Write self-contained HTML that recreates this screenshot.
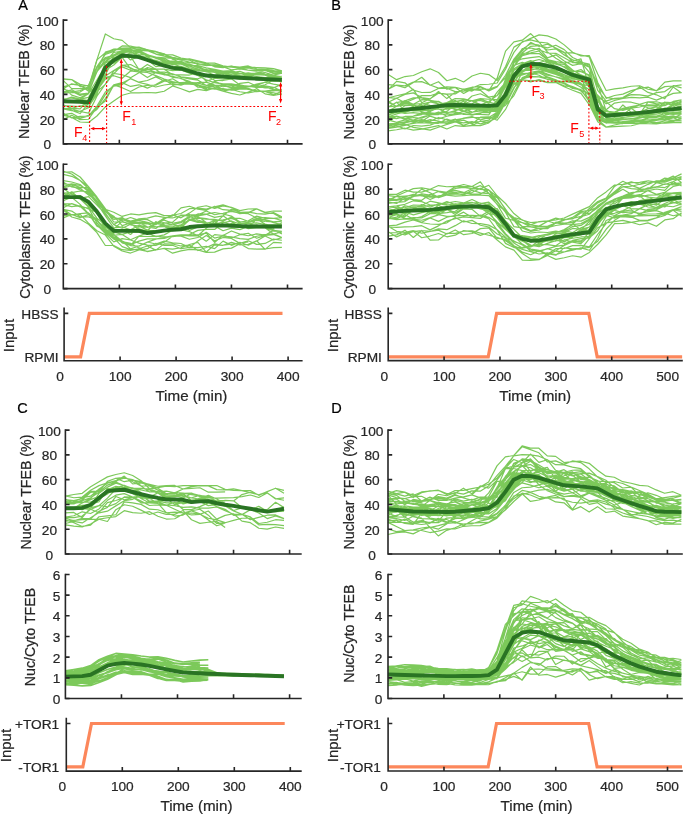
<!DOCTYPE html>
<html><head><meta charset="utf-8"><style>
html,body{margin:0;padding:0;background:#fff;width:685px;height:816px;overflow:hidden}
svg{display:block;will-change:transform}
text{font-family:"Liberation Sans", sans-serif}
</style></head><body>
<svg width="685" height="816" viewBox="0 0 685 816"><path d="M63.30,115.23 L71.71,117.48 L80.11,122.00 L88.52,122.44 L96.93,115.99 L105.34,106.90 L113.75,100.99 L122.15,95.24 L130.56,92.97 L138.97,92.95 L147.38,92.51 L155.78,92.89 L164.19,91.27 L172.60,85.93 L181.00,88.70 L189.41,91.93 L197.82,89.38 L206.23,90.65 L214.63,87.98 L223.04,91.14 L231.45,93.36 L239.86,95.03 L248.26,92.17 L256.67,88.79 L265.08,93.79 L273.49,95.38 L281.89,93.93 M63.30,100.30 L71.71,101.57 L80.11,101.27 L88.52,100.37 L96.93,84.70 L105.34,66.70 L113.75,62.90 L122.15,57.40 L130.56,68.89 L138.97,70.35 L147.38,64.48 L155.78,69.26 L164.19,69.13 L172.60,70.65 L181.00,69.87 L189.41,73.07 L197.82,75.45 L206.23,79.88 L214.63,82.57 L223.04,84.07 L231.45,84.64 L239.86,86.51 L248.26,86.58 L256.67,86.22 L265.08,85.93 L273.49,87.30 L281.89,90.95 M63.30,102.13 L71.71,101.10 L80.11,102.48 L88.52,106.78 L96.93,94.45 L105.34,70.30 L113.75,65.06 L122.15,57.35 L130.56,56.46 L138.97,69.54 L147.38,71.09 L155.78,72.88 L164.19,74.56 L172.60,76.28 L181.00,78.62 L189.41,81.36 L197.82,87.25 L206.23,87.66 L214.63,89.18 L223.04,88.63 L231.45,90.12 L239.86,89.21 L248.26,89.11 L256.67,90.50 L265.08,91.50 L273.49,92.75 L281.89,94.63 M63.30,99.19 L71.71,98.03 L80.11,99.08 L88.52,97.33 L96.93,83.04 L105.34,62.97 L113.75,58.86 L122.15,55.14 L130.56,55.44 L138.97,56.86 L147.38,58.84 L155.78,62.23 L164.19,65.90 L172.60,67.85 L181.00,66.22 L189.41,69.11 L197.82,73.30 L206.23,74.16 L214.63,76.75 L223.04,73.18 L231.45,76.88 L239.86,75.87 L248.26,75.84 L256.67,78.54 L265.08,77.66 L273.49,76.91 L281.89,77.54 M63.30,108.94 L71.71,110.57 L80.11,111.28 L88.52,107.80 L96.93,91.61 L105.34,84.34 L113.75,73.33 L122.15,74.77 L130.56,77.68 L138.97,72.77 L147.38,67.56 L155.78,69.53 L164.19,74.92 L172.60,73.97 L181.00,77.18 L189.41,78.81 L197.82,80.07 L206.23,85.45 L214.63,82.39 L223.04,83.78 L231.45,83.78 L239.86,85.33 L248.26,86.04 L256.67,85.33 L265.08,82.07 L273.49,79.61 L281.89,81.64 M63.30,113.18 L71.71,117.88 L80.11,116.40 L88.52,116.09 L96.93,108.27 L105.34,94.65 L113.75,84.81 L122.15,87.68 L130.56,91.57 L138.97,86.97 L147.38,85.39 L155.78,85.20 L164.19,81.24 L172.60,78.78 L181.00,83.86 L189.41,84.27 L197.82,85.02 L206.23,86.84 L214.63,86.74 L223.04,89.73 L231.45,88.93 L239.86,86.62 L248.26,88.36 L256.67,91.75 L265.08,91.01 L273.49,89.87 L281.89,91.30 M63.30,80.59 L71.71,88.61 L80.11,88.61 L88.52,88.17 L96.93,68.05 L105.34,53.27 L113.75,49.88 L122.15,49.35 L130.56,49.44 L138.97,51.63 L147.38,55.50 L155.78,57.04 L164.19,57.73 L172.60,58.44 L181.00,60.17 L189.41,62.19 L197.82,63.46 L206.23,65.68 L214.63,64.73 L223.04,66.32 L231.45,67.15 L239.86,67.61 L248.26,70.27 L256.67,71.16 L265.08,69.31 L273.49,70.56 L281.89,72.04 M63.30,78.85 L71.71,79.49 L80.11,84.30 L88.52,85.98 L96.93,71.56 L105.34,52.18 L113.75,49.46 L122.15,48.10 L130.56,47.89 L138.97,49.41 L147.38,50.76 L155.78,53.92 L164.19,54.55 L172.60,54.83 L181.00,58.09 L189.41,59.39 L197.82,61.85 L206.23,63.19 L214.63,66.82 L223.04,67.63 L231.45,66.27 L239.86,67.04 L248.26,65.96 L256.67,68.79 L265.08,69.31 L273.49,68.61 L281.89,70.84 M63.30,101.03 L71.71,101.03 L80.11,99.22 L88.52,100.64 L96.93,88.74 L105.34,69.77 L113.75,56.33 L122.15,52.08 L130.56,59.98 L138.97,56.34 L147.38,59.20 L155.78,60.34 L164.19,63.24 L172.60,62.87 L181.00,64.13 L189.41,66.20 L197.82,69.18 L206.23,71.89 L214.63,72.07 L223.04,71.13 L231.45,72.18 L239.86,74.03 L248.26,72.90 L256.67,74.16 L265.08,75.17 L273.49,76.60 L281.89,77.08 M63.30,88.84 L71.71,83.82 L80.11,85.42 L88.52,89.42 L96.93,59.90 L105.34,52.75 L113.75,49.16 L122.15,49.87 L130.56,49.94 L138.97,50.39 L147.38,50.88 L155.78,51.89 L164.19,53.87 L172.60,59.12 L181.00,62.99 L189.41,62.34 L197.82,63.98 L206.23,64.22 L214.63,66.11 L223.04,66.81 L231.45,69.89 L239.86,68.89 L248.26,70.23 L256.67,70.19 L265.08,70.58 L273.49,71.89 L281.89,72.36 M63.30,108.54 L71.71,108.80 L80.11,111.52 L88.52,113.12 L96.93,96.23 L105.34,84.13 L113.75,71.02 L122.15,66.86 L130.56,70.31 L138.97,71.72 L147.38,69.50 L155.78,69.22 L164.19,69.15 L172.60,74.69 L181.00,74.81 L189.41,75.03 L197.82,72.82 L206.23,81.25 L214.63,78.24 L223.04,79.13 L231.45,77.72 L239.86,79.05 L248.26,78.09 L256.67,76.54 L265.08,77.63 L273.49,78.05 L281.89,78.43 M63.30,108.09 L71.71,110.39 L80.11,113.56 L88.52,103.23 L96.93,90.15 L105.34,77.44 L113.75,75.70 L122.15,78.31 L130.56,71.01 L138.97,71.93 L147.38,72.47 L155.78,75.64 L164.19,79.04 L172.60,81.66 L181.00,83.58 L189.41,82.85 L197.82,85.60 L206.23,89.65 L214.63,88.62 L223.04,91.19 L231.45,89.52 L239.86,91.78 L248.26,92.98 L256.67,91.27 L265.08,91.35 L273.49,94.45 L281.89,91.47 M63.30,119.61 L71.71,115.21 L80.11,119.60 L88.52,119.27 L96.93,107.45 L105.34,101.05 L113.75,84.89 L122.15,82.60 L130.56,86.44 L138.97,84.80 L147.38,88.09 L155.78,84.47 L164.19,79.68 L172.60,84.86 L181.00,84.30 L189.41,83.69 L197.82,82.54 L206.23,82.08 L214.63,85.16 L223.04,86.78 L231.45,85.18 L239.86,86.18 L248.26,86.48 L256.67,84.12 L265.08,82.27 L273.49,84.16 L281.89,85.57 M63.30,99.92 L71.71,97.02 L80.11,99.10 L88.52,93.74 L96.93,80.02 L105.34,65.79 L113.75,57.92 L122.15,56.08 L130.56,53.05 L138.97,52.39 L147.38,56.21 L155.78,57.78 L164.19,59.74 L172.60,64.94 L181.00,63.58 L189.41,64.09 L197.82,67.05 L206.23,69.83 L214.63,69.66 L223.04,73.16 L231.45,72.49 L239.86,71.39 L248.26,74.38 L256.67,72.92 L265.08,74.49 L273.49,77.22 L281.89,76.25 M63.30,104.70 L71.71,108.48 L80.11,105.77 L88.52,107.24 L96.93,90.65 L105.34,79.17 L113.75,73.85 L122.15,65.15 L130.56,67.86 L138.97,71.98 L147.38,77.58 L155.78,72.49 L164.19,73.59 L172.60,77.32 L181.00,78.24 L189.41,83.00 L197.82,85.75 L206.23,87.08 L214.63,85.45 L223.04,85.44 L231.45,87.81 L239.86,86.34 L248.26,86.18 L256.67,87.58 L265.08,86.93 L273.49,89.40 L281.89,90.28 M63.30,79.41 L71.71,79.66 L80.11,86.55 L88.52,85.33 L96.93,66.51 L105.34,54.51 L113.75,51.43 L122.15,45.95 L130.56,46.10 L138.97,47.98 L147.38,49.74 L155.78,54.09 L164.19,56.18 L172.60,57.70 L181.00,59.60 L189.41,58.90 L197.82,60.88 L206.23,62.95 L214.63,63.18 L223.04,65.78 L231.45,67.10 L239.86,68.02 L248.26,67.08 L256.67,67.50 L265.08,67.92 L273.49,68.71 L281.89,71.32 M63.30,113.91 L71.71,117.56 L80.11,118.30 L88.52,115.87 L96.93,106.03 L105.34,91.99 L113.75,86.09 L122.15,84.60 L130.56,78.57 L138.97,82.21 L147.38,80.51 L155.78,76.84 L164.19,80.99 L172.60,82.58 L181.00,82.50 L189.41,82.09 L197.82,83.28 L206.23,85.36 L214.63,85.20 L223.04,89.34 L231.45,89.51 L239.86,87.83 L248.26,89.39 L256.67,90.78 L265.08,91.13 L273.49,90.87 L281.89,89.61 M63.30,92.36 L71.71,89.77 L80.11,94.17 L88.52,93.01 L96.93,71.70 L105.34,62.10 L113.75,55.77 L122.15,52.60 L130.56,51.95 L138.97,54.54 L147.38,54.89 L155.78,57.11 L164.19,62.60 L172.60,61.96 L181.00,61.38 L189.41,65.57 L197.82,65.93 L206.23,70.88 L214.63,69.69 L223.04,72.29 L231.45,70.65 L239.86,73.45 L248.26,75.79 L256.67,73.11 L265.08,70.41 L273.49,73.20 L281.89,72.95 M63.30,92.85 L71.71,92.69 L80.11,92.10 L88.52,86.38 L96.93,67.19 L105.34,57.50 L113.75,55.21 L122.15,51.65 L130.56,51.82 L138.97,56.37 L147.38,57.10 L155.78,60.94 L164.19,64.43 L172.60,63.85 L181.00,66.75 L189.41,69.36 L197.82,70.15 L206.23,71.14 L214.63,72.45 L223.04,76.52 L231.45,79.02 L239.86,76.27 L248.26,78.49 L256.67,78.28 L265.08,80.36 L273.49,80.04 L281.89,82.01 M63.30,108.54 L71.71,108.24 L80.11,108.81 L88.52,99.51 L96.93,90.85 L105.34,76.03 L113.75,70.48 L122.15,65.26 L130.56,64.52 L138.97,68.96 L147.38,69.12 L155.78,72.21 L164.19,72.07 L172.60,73.85 L181.00,76.80 L189.41,77.88 L197.82,78.80 L206.23,75.87 L214.63,80.23 L223.04,80.53 L231.45,78.81 L239.86,84.95 L248.26,86.68 L256.67,86.48 L265.08,84.73 L273.49,79.91 L281.89,81.87 M63.30,87.78 L71.71,95.17 L80.11,97.72 L88.52,93.21 L96.93,71.45 L105.34,61.76 L113.75,52.47 L122.15,51.02 L130.56,50.14 L138.97,50.65 L147.38,54.65 L155.78,58.09 L164.19,58.49 L172.60,62.32 L181.00,61.67 L189.41,65.62 L197.82,65.69 L206.23,67.83 L214.63,69.41 L223.04,71.04 L231.45,70.54 L239.86,73.62 L248.26,73.04 L256.67,73.39 L265.08,72.66 L273.49,75.05 L281.89,73.06 M63.30,86.86 L71.71,84.26 L80.11,85.28 L88.52,91.36 L96.93,71.90 L105.34,59.11 L113.75,54.76 L122.15,50.91 L130.56,50.38 L138.97,52.52 L147.38,55.53 L155.78,58.15 L164.19,61.37 L172.60,62.77 L181.00,63.87 L189.41,67.79 L197.82,70.25 L206.23,69.24 L214.63,71.96 L223.04,74.36 L231.45,72.81 L239.86,75.61 L248.26,78.68 L256.67,77.79 L265.08,80.29 L273.49,81.14 L281.89,80.55 M63.30,105.56 L71.71,106.03 L80.11,106.51 L88.52,103.00 L96.93,90.23 L105.34,74.65 L113.75,59.03 L122.15,57.66 L130.56,55.01 L138.97,55.56 L147.38,59.50 L155.78,66.64 L164.19,65.41 L172.60,66.57 L181.00,66.63 L189.41,69.65 L197.82,70.56 L206.23,71.64 L214.63,75.28 L223.04,73.34 L231.45,74.67 L239.86,76.37 L248.26,76.89 L256.67,74.56 L265.08,75.13 L273.49,78.69 L281.89,78.04 M63.30,89.22 L71.71,91.23 L80.11,95.38 L88.52,93.03 L96.93,85.73 L105.34,67.74 L113.75,57.94 L122.15,53.60 L130.56,50.96 L138.97,52.13 L147.38,55.09 L155.78,58.31 L164.19,60.61 L172.60,61.18 L181.00,63.00 L189.41,64.77 L197.82,67.68 L206.23,70.07 L214.63,70.68 L223.04,74.08 L231.45,70.99 L239.86,73.64 L248.26,74.72 L256.67,73.13 L265.08,74.40 L273.49,75.45 L281.89,76.90 M63.30,114.59 L71.71,113.33 L80.11,117.98 L88.52,115.25 L96.93,109.42 L105.34,98.66 L113.75,85.78 L122.15,82.93 L130.56,78.70 L138.97,82.48 L147.38,84.39 L155.78,86.96 L164.19,85.00 L172.60,83.89 L181.00,85.13 L189.41,82.51 L197.82,84.64 L206.23,88.67 L214.63,81.13 L223.04,84.93 L231.45,87.08 L239.86,83.33 L248.26,82.31 L256.67,86.10 L265.08,88.01 L273.49,87.88 L281.89,84.19" fill="none" stroke="#7cc95a" stroke-width="1.2" stroke-linejoin="round"/>
<path d="M63.30,91.78 L71.71,91.97 L80.11,90.59 L88.52,87.17 L96.93,59.85 L105.34,33.94 L113.75,38.73 L122.15,40.42 L130.56,47.65 L138.97,47.19 L147.38,49.93 L155.78,51.45 L164.19,54.34 L172.60,57.45 L181.00,59.15 L189.41,60.04 L197.82,64.53 L206.23,64.90 L214.63,65.07 L223.04,67.12 L231.45,66.18 L239.86,68.58 L248.26,67.87 L256.67,69.46 L265.08,69.79 L273.49,73.54 L281.89,73.37" fill="none" stroke="#7cc95a" stroke-width="1.2" stroke-linejoin="round"/>
<path d="M63.30,210.07 L71.71,217.04 L80.11,219.34 L88.52,224.21 L96.93,232.64 L105.34,245.49 L113.75,245.52 L122.15,249.68 L130.56,250.34 L138.97,248.76 L147.38,246.00 L155.78,250.13 L164.19,243.89 L172.60,244.00 L181.00,245.96 L189.41,245.08 L197.82,250.53 L206.23,247.48 L214.63,243.86 L223.04,245.22 L231.45,244.27 L239.86,243.28 L248.26,242.01 M63.30,196.61 L71.71,193.75 L80.11,198.41 L88.52,196.61 L96.93,205.05 L105.34,213.77 L113.75,224.58 L122.15,228.24 L130.56,224.25 L138.97,222.75 L147.38,226.90 L155.78,228.52 L164.19,223.05 L172.60,222.09 L181.00,215.07 L189.41,216.28 L197.82,215.87 L206.23,214.30 L214.63,217.39 L223.04,215.82 L231.45,209.25 L239.86,212.16 M63.30,203.79 L71.71,203.79 L80.11,206.95 L88.52,208.21 L96.93,222.95 L105.34,232.62 L113.75,238.92 L122.15,241.16 L130.56,244.66 L138.97,241.16 L147.38,238.87 L155.78,238.80 L164.19,238.36 L172.60,235.87 L181.00,236.14 L189.41,239.28 L197.82,237.48 L206.23,232.37 L214.63,238.06 L223.04,236.03 L231.45,236.87 L239.86,238.57 L248.26,239.32 L256.67,236.23 L265.08,234.54 L273.49,233.86 L281.89,237.53 M63.30,174.44 L71.71,176.29 L80.11,180.48 L88.52,188.92 L96.93,198.48 L105.34,209.54 L113.75,222.00 L122.15,221.95 L130.56,223.94 L138.97,228.93 L147.38,231.33 L155.78,221.56 L164.19,226.39 L172.60,230.61 L181.00,227.97 L189.41,219.84 L197.82,222.47 L206.23,222.50 L214.63,224.73 L223.04,225.69 L231.45,223.49 L239.86,224.97 L248.26,228.62 L256.67,227.60 L265.08,227.44 L273.49,231.07 L281.89,231.38 M63.30,172.23 L71.71,171.85 L80.11,176.99 L88.52,186.63 L96.93,198.94 L105.34,209.20 L113.75,212.20 L122.15,216.44 L130.56,213.96 L138.97,214.82 L147.38,213.36 L155.78,212.58 L164.19,215.57 L172.60,215.23 L181.00,213.48 L189.41,208.71 L197.82,208.14 L206.23,209.05 L214.63,206.79 L223.04,204.88 L231.45,207.60 L239.86,212.47 L248.26,212.04 L256.67,213.58 L265.08,214.08 L273.49,212.60 L281.89,216.74 M63.30,183.78 L71.71,184.57 L80.11,187.40 L88.52,187.62 L96.93,198.21 L105.34,211.33 L113.75,216.22 L122.15,225.66 L130.56,223.00 L138.97,222.00 L147.38,223.79 L155.78,226.78 L164.19,226.68 L172.60,226.73 L181.00,224.84 L189.41,230.37 L197.82,226.93 L206.23,224.55 L214.63,226.09 L223.04,230.74 L231.45,228.19 L239.86,229.68 L248.26,226.43 L256.67,224.83 L265.08,227.80 L273.49,234.03 L281.89,231.83 M63.30,187.91 L71.71,185.71 L80.11,189.93 L88.52,193.42 L96.93,203.25 L105.34,215.89 L113.75,227.85 L122.15,226.80 L130.56,229.89 L138.97,225.17 L147.38,227.52 L155.78,223.75 L164.19,224.66 L172.60,229.62 L181.00,224.79 L189.41,219.73 L197.82,216.36 L206.23,222.54 L214.63,224.05 L223.04,222.05 L231.45,224.92 L239.86,227.00 L248.26,227.19 L256.67,219.17 L265.08,224.04 L273.49,226.21 L281.89,225.89 M63.30,180.63 L71.71,182.01 L80.11,184.47 L88.52,191.75 L96.93,200.88 L105.34,213.22 L113.75,224.63 L122.15,219.55 L130.56,222.74 L138.97,220.20 L147.38,223.32 L155.78,223.33 L164.19,222.71 L172.60,224.76 L181.00,222.64 L189.41,217.51 L197.82,213.95 L206.23,214.06 L214.63,212.48 L223.04,213.97 L231.45,216.05 L239.86,222.02 L248.26,220.73 L256.67,216.11 L265.08,218.43 L273.49,218.28 L281.89,220.53 M63.30,193.43 L71.71,197.27 L80.11,195.52 L88.52,201.52 L96.93,213.08 L105.34,229.13 L113.75,234.39 L122.15,240.96 L130.56,245.32 L138.97,236.16 L147.38,236.48 L155.78,236.16 L164.19,236.78 L172.60,236.66 L181.00,235.62 L189.41,234.83 L197.82,234.84 L206.23,233.08 L214.63,242.43 L223.04,235.15 L231.45,237.95 L239.86,234.70 L248.26,233.22 L256.67,238.26 L265.08,235.34 L273.49,234.54 L281.89,237.78 M63.30,209.00 L71.71,214.98 L80.11,213.57 L88.52,212.87 L96.93,219.42 L105.34,231.72 L113.75,239.17 L122.15,241.71 L130.56,243.32 L138.97,247.91 L147.38,251.74 L155.78,249.97 L164.19,248.43 L172.60,249.11 L181.00,247.77 L189.41,244.54 L197.82,242.38 L206.23,252.02 L214.63,244.81 L223.04,245.28 L231.45,242.32 L239.86,244.92 L248.26,244.29 L256.67,240.75 L265.08,249.38 L273.49,242.38 L281.89,242.88 M63.30,217.87 L71.71,214.56 L80.11,217.60 L88.52,214.57 L96.93,220.56 L105.34,230.74 L113.75,237.85 L122.15,246.63 L130.56,249.68 L138.97,249.60 L147.38,251.39 L155.78,249.95 L164.19,248.51 L172.60,253.17 L181.00,250.80 L189.41,249.44 L197.82,249.93 L206.23,252.31 L214.63,252.07 L223.04,248.84 L231.45,248.15 L239.86,243.83 L248.26,248.55 L256.67,249.11 L265.08,248.97 L273.49,247.71 L281.89,247.47 M63.30,215.54 L71.71,214.56 L80.11,214.39 L88.52,223.09 L96.93,230.81 L105.34,235.06 L113.75,246.17 L122.15,251.03 L130.56,253.06 L138.97,249.99 L147.38,248.68 L155.78,243.23 L164.19,245.43 L172.60,245.22 L181.00,248.77 L189.41,247.45 L197.82,247.62 L206.23,246.28 L214.63,248.58 L223.04,241.12 L231.45,245.33 L239.86,242.27 L248.26,245.25 L256.67,241.05 L265.08,235.92 L273.49,240.02 L281.89,237.78 M63.30,171.44 L71.71,173.96 L80.11,180.51 L88.52,186.68 L96.93,196.99 L105.34,208.49 L113.75,219.49 L122.15,218.22 L130.56,221.08 L138.97,219.03 L147.38,219.61 L155.78,224.01 L164.19,220.07 L172.60,223.29 L181.00,221.53 L189.41,216.16 L197.82,220.03 L206.23,222.62 L214.63,223.75 L223.04,215.82 L231.45,221.80 L239.86,226.66 L248.26,223.76 L256.67,225.87 L265.08,226.57 L273.49,229.71 L281.89,233.86 M63.30,182.39 L71.71,186.85 L80.11,188.29 L88.52,195.05 L96.93,200.87 L105.34,209.79 L113.75,217.43 L122.15,219.78 L130.56,221.86 L138.97,218.88 L147.38,218.14 L155.78,215.95 L164.19,217.46 L172.60,217.96 L181.00,215.65 L189.41,214.64 L197.82,214.92 L206.23,210.94 L214.63,214.76 L223.04,213.24 L231.45,211.46 L239.86,213.04 L248.26,213.77 L256.67,217.98 L265.08,217.66 L273.49,218.45 L281.89,217.68 M63.30,207.84 L71.71,203.56 L80.11,206.31 L88.52,214.14 L96.93,224.85 L105.34,233.67 L113.75,241.90 L122.15,238.64 L130.56,239.97 L138.97,243.16 L147.38,245.15 L155.78,245.32 L164.19,242.14 L172.60,236.25 L181.00,235.09 L189.41,235.85 L197.82,235.55 L206.23,241.23 L214.63,234.64 L223.04,235.50 L231.45,230.97 L239.86,234.12 L248.26,235.75 L256.67,233.87 L265.08,235.15 L273.49,230.36 L281.89,231.27 M63.30,204.59 L71.71,206.56 L80.11,205.72 L88.52,208.85 L96.93,212.51 L105.34,225.82 L113.75,235.32 L122.15,242.85 L130.56,245.53 L138.97,246.14 L147.38,241.99 L155.78,243.99 L164.19,241.13 L172.60,242.93 L181.00,243.49 L189.41,247.64 L197.82,241.09 L206.23,235.52 L214.63,240.84 L223.04,237.46 L231.45,238.47 L239.86,243.37 L248.26,240.74 L256.67,244.38 L265.08,243.46 L273.49,239.14 L281.89,240.23 M63.30,188.49 L71.71,194.50 L80.11,196.33 L88.52,204.01 L96.93,213.71 L105.34,224.03 L113.75,229.01 L122.15,221.41 L130.56,224.81 L138.97,226.13 L147.38,230.10 L155.78,223.53 L164.19,218.06 L172.60,215.92 L181.00,207.89 L189.41,206.25 L197.82,209.06 L206.23,210.33 L214.63,206.32 L223.04,209.72 L231.45,210.45 L239.86,213.78 L248.26,212.63 L256.67,208.93 L265.08,212.64 L273.49,213.43 L281.89,218.22 M63.30,200.61 L71.71,197.26 L80.11,198.84 L88.52,206.96 L96.93,218.11 L105.34,225.08 L113.75,231.89 L122.15,234.43 L130.56,231.90 L138.97,232.41 L147.38,230.58 L155.78,230.70 L164.19,231.46 L172.60,228.11 L181.00,227.45 L189.41,219.00 L197.82,221.36 L206.23,223.82 L214.63,220.44 L223.04,219.75 L231.45,218.42 L239.86,218.29 L248.26,221.31 L256.67,219.89 L265.08,219.70 L273.49,221.78 L281.89,221.31 M63.30,193.04 L71.71,192.59 L80.11,190.97 L88.52,191.89 L96.93,197.50 L105.34,210.68 L113.75,217.43 L122.15,220.55 L130.56,217.53 L138.97,220.36 L147.38,222.35 L155.78,224.64 L164.19,218.88 L172.60,214.88 L181.00,217.81 L189.41,213.13 L197.82,207.28 L206.23,205.73 L214.63,208.40 L223.04,205.81 L231.45,207.42 L239.86,210.61 L248.26,209.00 L256.67,208.86 L265.08,212.28 L273.49,211.03 L281.89,211.20 M63.30,198.45 L71.71,197.23 L80.11,204.40 L88.52,213.77 L96.93,226.17 L105.34,230.10 L113.75,235.23 L122.15,234.42 L130.56,239.78 L138.97,235.94 L147.38,232.91 L155.78,236.57 L164.19,234.86 L172.60,230.31 L181.00,229.64 L189.41,231.55 L197.82,235.79 L206.23,228.08 L214.63,221.46 L223.04,226.25 L231.45,225.50 L239.86,225.56 L248.26,226.56 L256.67,226.38 L265.08,226.24 L273.49,228.28 L281.89,222.61 M63.30,196.23 L71.71,191.81 L80.11,199.07 L88.52,205.85 L96.93,213.08 L105.34,227.07 L113.75,233.22 L122.15,229.53 L130.56,234.47 L138.97,226.59 L147.38,227.10 L155.78,227.01 L164.19,225.03 L172.60,227.83 L181.00,227.20 L189.41,220.37 L197.82,218.07 L206.23,219.10 L214.63,219.45 L223.04,221.14 L231.45,217.05 L239.86,223.15 L248.26,223.51 L256.67,222.88 L265.08,224.69 L273.49,224.78 L281.89,224.23 M63.30,209.41 L71.71,211.05 L80.11,216.83 L88.52,216.91 L96.93,220.25 L105.34,228.56 L113.75,237.28 L122.15,241.06 L130.56,248.91 L138.97,246.00 L147.38,242.15 L155.78,239.13 L164.19,237.33 L172.60,235.90 L181.00,234.97 L189.41,234.55 L197.82,230.37 L206.23,229.30 L214.63,229.47 L223.04,222.95 L231.45,220.94 L239.86,224.12 L248.26,222.35 L256.67,220.31 L265.08,221.50 L273.49,221.89 L281.89,221.19 M63.30,186.56 L71.71,183.82 L80.11,185.50 L88.52,190.10 L96.93,203.03 L105.34,211.20 L113.75,219.42 L122.15,217.51 L130.56,222.94 L138.97,223.67 L147.38,223.83 L155.78,223.04 L164.19,225.33 L172.60,224.78 L181.00,226.07 L189.41,214.52 L197.82,217.64 L206.23,218.62 L214.63,220.54 L223.04,219.78 L231.45,218.46 L239.86,221.52 L248.26,222.30 L256.67,218.13 L265.08,220.21 L273.49,222.55 L281.89,224.65" fill="none" stroke="#7cc95a" stroke-width="1.2" stroke-linejoin="round"/>
<path d="M388.20,121.63 L396.58,116.26 L404.96,119.33 L413.35,117.53 L421.73,118.24 L430.11,114.87 L438.49,114.12 L446.87,113.90 L455.26,114.04 L463.64,111.41 L472.02,114.23 L480.40,114.46 L488.78,114.88 L497.17,101.91 L505.55,86.90 L513.93,75.33 L522.31,71.03 L530.69,65.00 L539.08,68.99 L547.46,69.87 L555.84,72.87 L564.22,76.83 L572.60,80.68 L580.99,83.02 L589.37,102.16 L597.75,118.14 L606.13,115.45 L614.51,114.78 L622.90,114.82 L631.28,114.62 L639.66,114.61 L648.04,111.90 L656.42,111.50 L664.81,109.84 L673.19,110.84 L681.57,108.84 M388.20,89.12 L396.58,85.07 L404.96,85.92 L413.35,82.13 L421.73,81.67 L430.11,85.02 L438.49,88.14 L446.87,86.86 L455.26,87.25 L463.64,89.44 L472.02,87.22 L480.40,86.64 L488.78,90.48 L497.17,78.21 L505.55,51.18 L513.93,41.81 L522.31,40.19 L530.69,33.55 L539.08,42.21 L547.46,52.07 L555.84,58.22 L564.22,63.18 L572.60,61.23 L580.99,58.85 L589.37,87.23 L597.75,95.13 L606.13,103.81 L614.51,100.50 L622.90,98.42 L631.28,97.46 L639.66,97.96 L648.04,97.21 L656.42,100.14 L664.81,96.82 L673.19,93.37 L681.57,92.55 M388.20,106.93 L396.58,106.01 L404.96,101.88 L413.35,104.83 L421.73,109.34 L430.11,111.70 L438.49,104.31 L446.87,102.52 L455.26,101.34 L463.64,104.51 L472.02,103.77 L480.40,99.11 L488.78,102.11 L497.17,104.22 L505.55,93.04 L513.93,65.35 L522.31,62.44 L530.69,65.13 L539.08,66.52 L547.46,66.97 L555.84,63.18 L564.22,67.09 L572.60,72.70 L580.99,76.43 L589.37,81.08 L597.75,110.71 L606.13,116.10 L614.51,115.15 L622.90,114.87 L631.28,108.34 L639.66,114.39 L648.04,112.06 L656.42,111.87 L664.81,108.17 L673.19,108.33 L681.57,106.30 M388.20,127.68 L396.58,125.69 L404.96,128.92 L413.35,125.49 L421.73,126.22 L430.11,125.15 L438.49,122.06 L446.87,121.53 L455.26,119.05 L463.64,126.30 L472.02,125.53 L480.40,121.19 L488.78,122.93 L497.17,114.55 L505.55,96.23 L513.93,81.00 L522.31,79.25 L530.69,76.27 L539.08,76.84 L547.46,79.08 L555.84,81.45 L564.22,83.65 L572.60,88.36 L580.99,90.00 L589.37,101.72 L597.75,119.03 L606.13,122.74 L614.51,123.27 L622.90,121.48 L631.28,120.66 L639.66,120.37 L648.04,118.88 L656.42,119.03 L664.81,118.56 L673.19,117.44 L681.57,116.96 M388.20,102.23 L396.58,98.16 L404.96,102.78 L413.35,99.31 L421.73,95.67 L430.11,95.72 L438.49,93.03 L446.87,94.38 L455.26,104.15 L463.64,103.49 L472.02,95.97 L480.40,93.75 L488.78,97.70 L497.17,102.21 L505.55,79.06 L513.93,66.56 L522.31,55.61 L530.69,53.45 L539.08,53.58 L547.46,59.66 L555.84,61.58 L564.22,62.86 L572.60,69.99 L580.99,74.91 L589.37,78.44 L597.75,109.49 L606.13,115.73 L614.51,115.74 L622.90,113.38 L631.28,113.52 L639.66,114.07 L648.04,112.15 L656.42,111.11 L664.81,109.88 L673.19,111.17 L681.57,110.00 M388.20,124.97 L396.58,124.89 L404.96,124.83 L413.35,123.39 L421.73,122.04 L430.11,119.67 L438.49,121.10 L446.87,123.55 L455.26,121.62 L463.64,125.38 L472.02,122.12 L480.40,121.48 L488.78,120.04 L497.17,113.28 L505.55,98.35 L513.93,83.94 L522.31,78.39 L530.69,76.98 L539.08,76.82 L547.46,77.41 L555.84,80.95 L564.22,81.52 L572.60,82.83 L580.99,87.28 L589.37,95.58 L597.75,118.39 L606.13,123.07 L614.51,120.78 L622.90,122.34 L631.28,121.14 L639.66,120.69 L648.04,117.73 L656.42,116.07 L664.81,117.02 L673.19,115.92 L681.57,118.68 M388.20,107.13 L396.58,102.18 L404.96,111.18 L413.35,106.02 L421.73,105.37 L430.11,109.92 L438.49,106.61 L446.87,102.61 L455.26,98.55 L463.64,98.84 L472.02,100.86 L480.40,98.59 L488.78,99.23 L497.17,99.55 L505.55,86.50 L513.93,61.20 L522.31,50.74 L530.69,42.37 L539.08,46.46 L547.46,44.13 L555.84,48.02 L564.22,52.40 L572.60,62.16 L580.99,64.25 L589.37,64.92 L597.75,90.45 L606.13,101.17 L614.51,98.37 L622.90,97.77 L631.28,94.59 L639.66,94.96 L648.04,96.14 L656.42,92.59 L664.81,91.53 L673.19,85.67 L681.57,87.81 M388.20,111.36 L396.58,106.33 L404.96,104.85 L413.35,104.57 L421.73,109.14 L430.11,110.23 L438.49,106.42 L446.87,103.23 L455.26,100.27 L463.64,107.72 L472.02,106.66 L480.40,109.15 L488.78,108.71 L497.17,100.31 L505.55,82.72 L513.93,70.00 L522.31,66.16 L530.69,64.52 L539.08,62.79 L547.46,60.13 L555.84,71.10 L564.22,74.59 L572.60,77.80 L580.99,77.71 L589.37,96.35 L597.75,110.30 L606.13,116.49 L614.51,115.58 L622.90,115.33 L631.28,115.51 L639.66,114.16 L648.04,114.22 L656.42,108.90 L664.81,109.71 L673.19,110.93 L681.57,110.86 M388.20,107.00 L396.58,102.57 L404.96,100.81 L413.35,97.84 L421.73,97.89 L430.11,100.38 L438.49,101.89 L446.87,105.24 L455.26,101.54 L463.64,99.83 L472.02,100.72 L480.40,100.45 L488.78,103.54 L497.17,92.21 L505.55,82.45 L513.93,62.93 L522.31,54.70 L530.69,50.82 L539.08,48.21 L547.46,57.81 L555.84,54.85 L564.22,61.09 L572.60,65.39 L580.99,63.72 L589.37,67.18 L597.75,101.54 L606.13,109.73 L614.51,103.05 L622.90,101.74 L631.28,102.21 L639.66,104.32 L648.04,101.73 L656.42,101.79 L664.81,103.77 L673.19,105.01 L681.57,100.82 M388.20,102.36 L396.58,106.19 L404.96,100.57 L413.35,104.34 L421.73,99.70 L430.11,100.34 L438.49,103.73 L446.87,105.39 L455.26,103.79 L463.64,103.99 L472.02,100.77 L480.40,104.60 L488.78,107.41 L497.17,104.70 L505.55,84.76 L513.93,62.48 L522.31,58.81 L530.69,57.54 L539.08,56.57 L547.46,60.95 L555.84,62.75 L564.22,67.18 L572.60,73.12 L580.99,75.13 L589.37,77.59 L597.75,108.37 L606.13,116.81 L614.51,115.21 L622.90,115.29 L631.28,114.70 L639.66,114.37 L648.04,101.86 L656.42,103.87 L664.81,103.75 L673.19,104.59 L681.57,107.11 M388.20,97.71 L396.58,95.77 L404.96,93.92 L413.35,89.38 L421.73,102.68 L430.11,98.70 L438.49,93.21 L446.87,94.19 L455.26,93.97 L463.64,89.08 L472.02,91.05 L480.40,87.01 L488.78,90.87 L497.17,86.87 L505.55,75.23 L513.93,59.11 L522.31,49.15 L530.69,43.75 L539.08,45.17 L547.46,50.01 L555.84,48.80 L564.22,54.89 L572.60,59.87 L580.99,62.24 L589.37,64.18 L597.75,86.36 L606.13,97.46 L614.51,98.81 L622.90,97.62 L631.28,92.48 L639.66,86.96 L648.04,92.39 L656.42,94.82 L664.81,98.77 L673.19,86.99 L681.57,92.96 M388.20,118.36 L396.58,116.08 L404.96,118.42 L413.35,120.15 L421.73,117.00 L430.11,114.82 L438.49,111.96 L446.87,116.23 L455.26,114.71 L463.64,113.57 L472.02,115.08 L480.40,112.98 L488.78,110.32 L497.17,110.73 L505.55,105.16 L513.93,88.50 L522.31,72.31 L530.69,67.39 L539.08,65.23 L547.46,70.48 L555.84,69.97 L564.22,71.51 L572.60,75.84 L580.99,78.55 L589.37,81.82 L597.75,96.24 L606.13,114.57 L614.51,117.32 L622.90,115.65 L631.28,114.56 L639.66,112.67 L648.04,113.47 L656.42,112.67 L664.81,110.28 L673.19,103.35 L681.57,105.17 M388.20,116.04 L396.58,116.65 L404.96,118.24 L413.35,116.12 L421.73,114.56 L430.11,111.41 L438.49,107.68 L446.87,105.93 L455.26,106.12 L463.64,108.62 L472.02,108.13 L480.40,108.20 L488.78,105.36 L497.17,104.40 L505.55,92.90 L513.93,70.64 L522.31,64.22 L530.69,64.32 L539.08,64.69 L547.46,65.79 L555.84,67.76 L564.22,69.93 L572.60,73.80 L580.99,77.11 L589.37,87.57 L597.75,113.67 L606.13,116.68 L614.51,112.57 L622.90,112.60 L631.28,113.86 L639.66,113.04 L648.04,112.80 L656.42,110.72 L664.81,104.10 L673.19,101.77 L681.57,102.22 M388.20,117.38 L396.58,118.67 L404.96,116.46 L413.35,116.04 L421.73,113.03 L430.11,112.74 L438.49,113.66 L446.87,111.39 L455.26,105.07 L463.64,111.07 L472.02,108.91 L480.40,109.21 L488.78,110.51 L497.17,111.97 L505.55,100.17 L513.93,82.62 L522.31,70.53 L530.69,67.10 L539.08,67.04 L547.46,70.49 L555.84,71.24 L564.22,75.05 L572.60,79.25 L580.99,79.73 L589.37,83.62 L597.75,107.66 L606.13,117.62 L614.51,119.68 L622.90,117.68 L631.28,115.96 L639.66,115.80 L648.04,114.51 L656.42,111.20 L664.81,110.13 L673.19,109.78 L681.57,109.42 M388.20,123.97 L396.58,123.36 L404.96,121.95 L413.35,120.61 L421.73,121.20 L430.11,116.09 L438.49,118.88 L446.87,116.26 L455.26,113.29 L463.64,114.02 L472.02,114.98 L480.40,113.45 L488.78,109.12 L497.17,109.00 L505.55,98.15 L513.93,78.85 L522.31,70.15 L530.69,70.39 L539.08,67.61 L547.46,66.76 L555.84,66.68 L564.22,71.68 L572.60,77.00 L580.99,75.62 L589.37,78.91 L597.75,106.41 L606.13,111.55 L614.51,112.56 L622.90,113.53 L631.28,114.09 L639.66,113.40 L648.04,112.03 L656.42,111.38 L664.81,108.71 L673.19,110.94 L681.57,109.60 M388.20,84.56 L396.58,85.43 L404.96,87.79 L413.35,82.40 L421.73,77.28 L430.11,85.27 L438.49,81.72 L446.87,89.19 L455.26,87.41 L463.64,93.47 L472.02,88.89 L480.40,89.09 L488.78,89.27 L497.17,86.43 L505.55,77.65 L513.93,62.93 L522.31,52.80 L530.69,46.35 L539.08,45.54 L547.46,47.88 L555.84,45.21 L564.22,49.65 L572.60,57.44 L580.99,61.21 L589.37,66.94 L597.75,84.06 L606.13,111.05 L614.51,112.12 L622.90,108.27 L631.28,106.71 L639.66,105.02 L648.04,105.78 L656.42,105.92 L664.81,105.72 L673.19,101.41 L681.57,99.85 M388.20,114.66 L396.58,112.01 L404.96,113.41 L413.35,112.69 L421.73,113.64 L430.11,114.90 L438.49,112.36 L446.87,112.28 L455.26,111.85 L463.64,114.40 L472.02,114.62 L480.40,112.76 L488.78,112.71 L497.17,108.16 L505.55,97.23 L513.93,76.85 L522.31,70.05 L530.69,68.97 L539.08,69.13 L547.46,71.92 L555.84,74.52 L564.22,77.64 L572.60,82.37 L580.99,84.23 L589.37,89.65 L597.75,116.03 L606.13,119.85 L614.51,120.07 L622.90,119.51 L631.28,118.49 L639.66,117.60 L648.04,115.59 L656.42,116.10 L664.81,113.63 L673.19,114.32 L681.57,113.71 M388.20,124.12 L396.58,125.05 L404.96,122.97 L413.35,120.88 L421.73,119.59 L430.11,121.37 L438.49,117.46 L446.87,119.83 L455.26,121.54 L463.64,118.13 L472.02,116.68 L480.40,119.94 L488.78,117.61 L497.17,112.20 L505.55,95.46 L513.93,78.03 L522.31,73.72 L530.69,73.02 L539.08,75.21 L547.46,79.45 L555.84,80.67 L564.22,82.86 L572.60,87.51 L580.99,89.68 L589.37,101.71 L597.75,119.39 L606.13,122.82 L614.51,122.90 L622.90,123.53 L631.28,122.21 L639.66,123.53 L648.04,122.34 L656.42,119.45 L664.81,117.14 L673.19,117.60 L681.57,121.29 M388.20,97.60 L396.58,98.24 L404.96,94.35 L413.35,92.87 L421.73,97.53 L430.11,98.96 L438.49,91.51 L446.87,98.59 L455.26,92.27 L463.64,90.74 L472.02,88.03 L480.40,84.57 L488.78,84.25 L497.17,83.01 L505.55,69.13 L513.93,52.39 L522.31,41.68 L530.69,39.91 L539.08,42.19 L547.46,43.00 L555.84,48.61 L564.22,52.62 L572.60,52.85 L580.99,55.00 L589.37,56.98 L597.75,82.52 L606.13,98.32 L614.51,95.50 L622.90,94.15 L631.28,90.60 L639.66,88.31 L648.04,87.08 L656.42,90.92 L664.81,82.06 L673.19,80.96 L681.57,80.90 M388.20,126.23 L396.58,124.16 L404.96,124.29 L413.35,127.35 L421.73,128.55 L430.11,130.15 L438.49,127.23 L446.87,124.40 L455.26,121.90 L463.64,122.90 L472.02,121.52 L480.40,123.88 L488.78,121.66 L497.17,117.82 L505.55,102.55 L513.93,87.52 L522.31,79.47 L530.69,81.88 L539.08,79.53 L547.46,82.42 L555.84,82.45 L564.22,85.89 L572.60,86.94 L580.99,91.02 L589.37,99.26 L597.75,119.54 L606.13,127.03 L614.51,125.00 L622.90,123.14 L631.28,122.77 L639.66,122.64 L648.04,120.90 L656.42,122.70 L664.81,120.98 L673.19,120.65 L681.57,120.89 M388.20,130.87 L396.58,129.72 L404.96,128.21 L413.35,130.19 L421.73,129.20 L430.11,127.31 L438.49,125.64 L446.87,129.01 L455.26,125.53 L463.64,126.31 L472.02,125.29 L480.40,125.60 L488.78,122.86 L497.17,116.09 L505.55,98.63 L513.93,84.55 L522.31,79.94 L530.69,80.85 L539.08,80.44 L547.46,82.61 L555.84,82.54 L564.22,86.78 L572.60,90.30 L580.99,93.33 L589.37,104.78 L597.75,121.67 L606.13,127.16 L614.51,126.68 L622.90,126.21 L631.28,125.73 L639.66,123.77 L648.04,123.53 L656.42,123.86 L664.81,122.69 L673.19,121.65 L681.57,117.68 M388.20,74.57 L396.58,79.64 L404.96,76.53 L413.35,75.50 L421.73,71.80 L430.11,68.81 L438.49,72.54 L446.87,80.77 L455.26,78.32 L463.64,81.96 L472.02,76.04 L480.40,73.25 L488.78,74.60 L497.17,80.49 L505.55,66.49 L513.93,47.13 L522.31,42.29 L530.69,38.41 L539.08,34.86 L547.46,35.89 L555.84,39.00 L564.22,44.87 L572.60,52.24 L580.99,55.91 L589.37,55.72 L597.75,74.04 L606.13,90.50 L614.51,88.95 L622.90,87.93 L631.28,86.25 L639.66,85.73 L648.04,89.23 L656.42,90.66 L664.81,86.62 L673.19,86.01 L681.57,84.79 M388.20,115.26 L396.58,112.24 L404.96,111.07 L413.35,108.22 L421.73,103.96 L430.11,101.96 L438.49,101.35 L446.87,106.04 L455.26,109.79 L463.64,108.05 L472.02,108.67 L480.40,109.08 L488.78,105.71 L497.17,106.11 L505.55,90.88 L513.93,66.33 L522.31,53.30 L530.69,52.90 L539.08,50.99 L547.46,59.32 L555.84,63.52 L564.22,64.28 L572.60,72.04 L580.99,69.58 L589.37,76.38 L597.75,112.11 L606.13,110.11 L614.51,114.61 L622.90,104.96 L631.28,112.42 L639.66,112.47 L648.04,108.61 L656.42,106.95 L664.81,109.86 L673.19,105.36 L681.57,102.84 M388.20,128.31 L396.58,127.21 L404.96,125.51 L413.35,122.85 L421.73,122.63 L430.11,123.19 L438.49,123.28 L446.87,119.04 L455.26,121.97 L463.64,120.08 L472.02,123.91 L480.40,117.21 L488.78,116.93 L497.17,120.25 L505.55,109.49 L513.93,92.52 L522.31,77.65 L530.69,74.15 L539.08,71.45 L547.46,75.22 L555.84,76.76 L564.22,78.94 L572.60,80.99 L580.99,84.98 L589.37,84.84 L597.75,99.45 L606.13,118.42 L614.51,121.14 L622.90,119.65 L631.28,118.95 L639.66,117.07 L648.04,117.47 L656.42,117.45 L664.81,115.39 L673.19,113.06 L681.57,114.38 M388.20,112.02 L396.58,111.38 L404.96,112.13 L413.35,109.82 L421.73,110.37 L430.11,105.89 L438.49,108.87 L446.87,109.15 L455.26,107.47 L463.64,106.43 L472.02,106.29 L480.40,109.93 L488.78,110.27 L497.17,109.89 L505.55,105.15 L513.93,95.56 L522.31,79.27 L530.69,72.19 L539.08,71.43 L547.46,70.59 L555.84,74.16 L564.22,76.72 L572.60,81.67 L580.99,84.01 L589.37,85.82 L597.75,96.13 L606.13,118.80 L614.51,123.04 L622.90,123.46 L631.28,123.12 L639.66,123.70 L648.04,122.03 L656.42,123.16 L664.81,123.20 L673.19,122.57 L681.57,122.54 M388.20,101.24 L396.58,106.41 L404.96,103.19 L413.35,104.23 L421.73,103.58 L430.11,105.28 L438.49,106.42 L446.87,103.10 L455.26,102.15 L463.64,99.98 L472.02,100.90 L480.40,105.16 L488.78,101.47 L497.17,95.49 L505.55,86.15 L513.93,68.71 L522.31,63.80 L530.69,60.64 L539.08,64.80 L547.46,62.65 L555.84,66.64 L564.22,71.72 L572.60,74.34 L580.99,78.89 L589.37,85.26 L597.75,112.34 L606.13,114.17 L614.51,116.16 L622.90,114.46 L631.28,116.44 L639.66,115.00 L648.04,113.48 L656.42,111.02 L664.81,113.95 L673.19,112.63 L681.57,112.97 M388.20,111.62 L396.58,109.82 L404.96,110.70 L413.35,110.09 L421.73,107.29 L430.11,101.92 L438.49,103.81 L446.87,104.17 L455.26,105.77 L463.64,101.11 L472.02,108.28 L480.40,110.31 L488.78,108.87 L497.17,106.36 L505.55,94.50 L513.93,76.31 L522.31,66.81 L530.69,65.78 L539.08,67.55 L547.46,71.11 L555.84,71.40 L564.22,76.47 L572.60,78.63 L580.99,80.71 L589.37,85.31 L597.75,112.34 L606.13,120.44 L614.51,118.95 L622.90,118.68 L631.28,119.21 L639.66,118.17 L648.04,116.14 L656.42,116.43 L664.81,116.43 L673.19,116.81 L681.57,117.39 M388.20,112.07 L396.58,112.31 L404.96,109.49 L413.35,110.81 L421.73,110.92 L430.11,110.05 L438.49,108.82 L446.87,113.13 L455.26,110.62 L463.64,108.11 L472.02,112.13 L480.40,110.83 L488.78,112.16 L497.17,110.26 L505.55,96.43 L513.93,77.78 L522.31,74.98 L530.69,72.32 L539.08,70.75 L547.46,74.06 L555.84,77.00 L564.22,79.82 L572.60,82.94 L580.99,84.46 L589.37,93.42 L597.75,117.12 L606.13,121.54 L614.51,120.08 L622.90,119.58 L631.28,118.98 L639.66,120.10 L648.04,121.12 L656.42,120.36 L664.81,119.02 L673.19,120.32 L681.57,118.93 M388.20,89.67 L396.58,81.38 L404.96,82.79 L413.35,90.06 L421.73,92.49 L430.11,92.42 L438.49,88.42 L446.87,88.29 L455.26,91.62 L463.64,91.16 L472.02,89.63 L480.40,90.31 L488.78,97.19 L497.17,95.65 L505.55,81.13 L513.93,61.85 L522.31,48.62 L530.69,48.03 L539.08,49.81 L547.46,53.00 L555.84,53.29 L564.22,57.74 L572.60,62.57 L580.99,62.37 L589.37,72.47 L597.75,97.42 L606.13,101.83 L614.51,108.70 L622.90,110.33 L631.28,107.86 L639.66,104.92 L648.04,107.74 L656.42,109.71 L664.81,102.06 L673.19,105.94 L681.57,110.40 M388.20,116.96 L396.58,113.92 L404.96,111.85 L413.35,106.95 L421.73,112.20 L430.11,113.82 L438.49,114.56 L446.87,107.23 L455.26,108.80 L463.64,111.43 L472.02,112.48 L480.40,108.27 L488.78,107.46 L497.17,103.77 L505.55,94.27 L513.93,73.93 L522.31,63.52 L530.69,61.60 L539.08,59.53 L547.46,61.93 L555.84,64.20 L564.22,66.48 L572.60,71.14 L580.99,71.63 L589.37,75.09 L597.75,108.21 L606.13,114.12 L614.51,112.14 L622.90,108.95 L631.28,108.20 L639.66,106.98 L648.04,104.86 L656.42,105.12 L664.81,102.20 L673.19,102.92 L681.57,104.89 M388.20,114.63 L396.58,112.15 L404.96,105.62 L413.35,105.09 L421.73,109.54 L430.11,106.42 L438.49,106.30 L446.87,108.03 L455.26,107.11 L463.64,108.11 L472.02,108.21 L480.40,107.23 L488.78,110.47 L497.17,107.58 L505.55,94.73 L513.93,81.40 L522.31,71.45 L530.69,68.19 L539.08,65.10 L547.46,68.83 L555.84,69.85 L564.22,69.93 L572.60,77.02 L580.99,79.90 L589.37,83.56 L597.75,105.96 L606.13,117.37 L614.51,118.83 L622.90,117.30 L631.28,116.68 L639.66,115.04 L648.04,114.55 L656.42,114.18 L664.81,112.27 L673.19,113.14 L681.57,111.99 M388.20,119.93 L396.58,122.32 L404.96,119.95 L413.35,121.89 L421.73,120.65 L430.11,122.58 L438.49,122.62 L446.87,122.94 L455.26,119.87 L463.64,118.45 L472.02,117.36 L480.40,117.48 L488.78,118.38 L497.17,115.47 L505.55,100.13 L513.93,83.98 L522.31,78.43 L530.69,75.21 L539.08,72.71 L547.46,76.86 L555.84,79.90 L564.22,83.89 L572.60,86.46 L580.99,90.06 L589.37,94.37 L597.75,115.91 L606.13,122.26 L614.51,122.58 L622.90,122.37 L631.28,121.22 L639.66,121.33 L648.04,120.91 L656.42,119.84 L664.81,119.83 L673.19,117.85 L681.57,114.28" fill="none" stroke="#7cc95a" stroke-width="1.2" stroke-linejoin="round"/>
<path d="M388.20,200.12 L396.58,200.32 L404.96,198.61 L413.35,196.70 L421.73,193.92 L430.11,195.06 L438.49,191.57 L446.87,193.90 L455.26,193.06 L463.64,194.89 L472.02,190.25 L480.40,192.85 L488.78,193.61 L497.17,197.65 L505.55,209.17 L513.93,220.96 L522.31,222.65 L530.69,226.86 L539.08,226.38 L547.46,226.25 L555.84,222.74 L564.22,219.45 L572.60,218.98 L580.99,212.65 L589.37,213.42 L597.75,207.79 L606.13,200.83 L614.51,192.20 L622.90,186.66 L631.28,186.24 L639.66,184.26 L648.04,180.75 L656.42,182.67 L664.81,184.51 L673.19,181.50 L681.57,177.72 M388.20,231.72 L396.58,236.91 L404.96,233.29 L413.35,231.70 L421.73,230.49 L430.11,231.39 L438.49,230.15 L446.87,234.05 L455.26,229.94 L463.64,234.68 L472.02,233.53 L480.40,228.62 L488.78,227.93 L497.17,238.37 L505.55,239.26 L513.93,246.45 L522.31,253.56 L530.69,258.97 L539.08,259.41 L547.46,255.56 L555.84,259.38 L564.22,257.74 L572.60,255.74 L580.99,257.17 L589.37,252.42 L597.75,244.23 L606.13,234.97 L614.51,223.54 L622.90,223.33 L631.28,222.29 L639.66,224.75 L648.04,222.87 L656.42,226.28 L664.81,219.95 L673.19,218.68 L681.57,212.69 M388.20,198.45 L396.58,199.53 L404.96,196.90 L413.35,194.41 L421.73,195.93 L430.11,197.13 L438.49,197.19 L446.87,192.01 L455.26,186.82 L463.64,184.52 L472.02,186.50 L480.40,189.42 L488.78,189.87 L497.17,201.23 L505.55,212.50 L513.93,218.22 L522.31,222.69 L530.69,224.88 L539.08,226.12 L547.46,221.36 L555.84,218.07 L564.22,220.00 L572.60,218.54 L580.99,216.40 L589.37,208.52 L597.75,201.58 L606.13,198.12 L614.51,186.41 L622.90,181.33 L631.28,185.40 L639.66,188.39 L648.04,184.33 L656.42,180.83 L664.81,180.95 L673.19,177.85 L681.57,173.86 M388.20,215.11 L396.58,211.08 L404.96,211.93 L413.35,214.92 L421.73,212.69 L430.11,210.85 L438.49,205.48 L446.87,208.85 L455.26,212.77 L463.64,208.38 L472.02,206.68 L480.40,208.09 L488.78,208.05 L497.17,214.40 L505.55,224.02 L513.93,236.52 L522.31,240.36 L530.69,240.25 L539.08,239.46 L547.46,234.25 L555.84,232.35 L564.22,231.53 L572.60,226.56 L580.99,225.41 L589.37,220.03 L597.75,209.92 L606.13,203.68 L614.51,199.88 L622.90,196.23 L631.28,197.57 L639.66,195.21 L648.04,190.54 L656.42,189.00 L664.81,190.40 L673.19,181.64 L681.57,186.08 M388.20,217.49 L396.58,214.67 L404.96,218.82 L413.35,217.70 L421.73,217.84 L430.11,213.76 L438.49,213.64 L446.87,212.68 L455.26,211.22 L463.64,205.96 L472.02,207.90 L480.40,207.89 L488.78,213.22 L497.17,215.34 L505.55,227.79 L513.93,234.47 L522.31,240.24 L530.69,245.13 L539.08,246.72 L547.46,243.31 L555.84,240.57 L564.22,240.02 L572.60,238.25 L580.99,236.97 L589.37,236.35 L597.75,225.25 L606.13,213.09 L614.51,206.09 L622.90,204.31 L631.28,205.75 L639.66,200.61 L648.04,199.05 L656.42,201.16 L664.81,198.00 L673.19,199.70 L681.57,199.76 M388.20,218.27 L396.58,219.55 L404.96,218.82 L413.35,219.03 L421.73,220.22 L430.11,217.68 L438.49,214.92 L446.87,209.24 L455.26,214.58 L463.64,208.81 L472.02,209.30 L480.40,216.35 L488.78,211.13 L497.17,213.08 L505.55,223.30 L513.93,236.17 L522.31,240.40 L530.69,247.05 L539.08,243.33 L547.46,240.73 L555.84,241.05 L564.22,237.58 L572.60,237.12 L580.99,229.67 L589.37,234.30 L597.75,222.27 L606.13,214.61 L614.51,209.17 L622.90,205.59 L631.28,203.99 L639.66,204.09 L648.04,199.85 L656.42,199.04 L664.81,195.37 L673.19,196.27 L681.57,199.19 M388.20,211.78 L396.58,208.56 L404.96,209.97 L413.35,209.89 L421.73,209.41 L430.11,213.36 L438.49,211.03 L446.87,206.47 L455.26,207.99 L463.64,207.44 L472.02,206.61 L480.40,208.99 L488.78,210.88 L497.17,214.98 L505.55,227.89 L513.93,237.26 L522.31,241.25 L530.69,245.00 L539.08,245.69 L547.46,237.94 L555.84,235.70 L564.22,237.22 L572.60,234.80 L580.99,233.27 L589.37,230.17 L597.75,220.50 L606.13,213.98 L614.51,213.30 L622.90,210.62 L631.28,206.48 L639.66,204.04 L648.04,207.00 L656.42,207.40 L664.81,203.44 L673.19,199.74 L681.57,204.05 M388.20,226.98 L396.58,227.38 L404.96,226.86 L413.35,226.55 L421.73,225.70 L430.11,229.89 L438.49,225.84 L446.87,221.08 L455.26,218.66 L463.64,216.85 L472.02,217.74 L480.40,218.38 L488.78,213.23 L497.17,222.00 L505.55,229.46 L513.93,236.42 L522.31,244.14 L530.69,250.97 L539.08,250.90 L547.46,248.84 L555.84,246.42 L564.22,245.11 L572.60,240.42 L580.99,238.69 L589.37,237.90 L597.75,230.81 L606.13,216.58 L614.51,209.96 L622.90,205.66 L631.28,208.81 L639.66,208.64 L648.04,204.60 L656.42,207.93 L664.81,204.84 L673.19,202.90 L681.57,201.59 M388.20,208.63 L396.58,210.77 L404.96,205.87 L413.35,207.35 L421.73,206.28 L430.11,205.66 L438.49,204.24 L446.87,203.21 L455.26,201.49 L463.64,202.81 L472.02,202.38 L480.40,204.96 L488.78,209.73 L497.17,217.46 L505.55,229.28 L513.93,237.46 L522.31,239.17 L530.69,237.70 L539.08,235.49 L547.46,235.23 L555.84,232.67 L564.22,230.57 L572.60,223.64 L580.99,229.90 L589.37,221.53 L597.75,213.21 L606.13,203.43 L614.51,201.44 L622.90,198.51 L631.28,197.84 L639.66,195.78 L648.04,203.02 L656.42,200.58 L664.81,196.03 L673.19,197.12 L681.57,192.72 M388.20,219.03 L396.58,217.08 L404.96,212.94 L413.35,208.56 L421.73,208.47 L430.11,208.67 L438.49,212.12 L446.87,210.02 L455.26,208.24 L463.64,209.08 L472.02,206.56 L480.40,207.67 L488.78,208.34 L497.17,208.59 L505.55,221.05 L513.93,229.34 L522.31,237.32 L530.69,239.87 L539.08,242.38 L547.46,240.07 L555.84,233.81 L564.22,233.44 L572.60,236.34 L580.99,228.99 L589.37,230.66 L597.75,219.46 L606.13,208.97 L614.51,207.29 L622.90,198.07 L631.28,194.66 L639.66,196.86 L648.04,195.10 L656.42,195.02 L664.81,194.74 L673.19,192.78 L681.57,194.08 M388.20,200.86 L396.58,196.12 L404.96,200.16 L413.35,195.94 L421.73,195.43 L430.11,196.26 L438.49,197.53 L446.87,192.05 L455.26,190.22 L463.64,192.45 L472.02,194.06 L480.40,193.88 L488.78,189.98 L497.17,201.98 L505.55,211.28 L513.93,220.36 L522.31,230.97 L530.69,233.00 L539.08,232.00 L547.46,232.50 L555.84,231.16 L564.22,232.66 L572.60,228.44 L580.99,229.38 L589.37,227.19 L597.75,217.44 L606.13,209.31 L614.51,201.83 L622.90,197.44 L631.28,196.46 L639.66,194.87 L648.04,196.82 L656.42,201.76 L664.81,195.73 L673.19,193.32 L681.57,195.05 M388.20,195.54 L396.58,196.71 L404.96,196.06 L413.35,195.47 L421.73,189.13 L430.11,192.78 L438.49,197.16 L446.87,192.43 L455.26,191.99 L463.64,192.74 L472.02,188.82 L480.40,188.84 L488.78,185.25 L497.17,195.77 L505.55,203.51 L513.93,213.52 L522.31,220.16 L530.69,222.49 L539.08,221.80 L547.46,220.99 L555.84,223.48 L564.22,220.15 L572.60,217.38 L580.99,211.56 L589.37,210.38 L597.75,202.87 L606.13,198.81 L614.51,191.81 L622.90,184.58 L631.28,182.64 L639.66,182.39 L648.04,180.78 L656.42,181.99 L664.81,182.20 L673.19,179.13 L681.57,176.65 M388.20,236.07 L396.58,234.89 L404.96,230.16 L413.35,237.43 L421.73,230.42 L430.11,240.20 L438.49,239.97 L446.87,233.36 L455.26,233.41 L463.64,231.05 L472.02,230.78 L480.40,233.08 L488.78,235.25 L497.17,237.33 L505.55,240.81 L513.93,246.35 L522.31,252.10 L530.69,254.70 L539.08,250.81 L547.46,255.17 L555.84,250.81 L564.22,245.41 L572.60,241.69 L580.99,240.63 L589.37,237.23 L597.75,224.16 L606.13,215.07 L614.51,218.06 L622.90,215.17 L631.28,213.71 L639.66,208.62 L648.04,210.66 L656.42,209.61 L664.81,205.81 L673.19,206.74 L681.57,204.04 M388.20,214.51 L396.58,214.03 L404.96,218.28 L413.35,218.76 L421.73,216.48 L430.11,211.69 L438.49,214.57 L446.87,216.32 L455.26,216.31 L463.64,212.15 L472.02,217.50 L480.40,215.19 L488.78,217.36 L497.17,222.68 L505.55,233.61 L513.93,241.79 L522.31,244.00 L530.69,248.97 L539.08,250.38 L547.46,254.33 L555.84,248.64 L564.22,248.47 L572.60,245.68 L580.99,245.41 L589.37,246.93 L597.75,234.25 L606.13,223.63 L614.51,216.06 L622.90,215.19 L631.28,215.88 L639.66,215.78 L648.04,215.72 L656.42,215.66 L664.81,214.42 L673.19,210.15 L681.57,216.23 M388.20,207.15 L396.58,205.89 L404.96,210.16 L413.35,208.88 L421.73,204.52 L430.11,207.27 L438.49,203.73 L446.87,205.11 L455.26,203.72 L463.64,206.18 L472.02,205.48 L480.40,207.91 L488.78,204.07 L497.17,214.96 L505.55,221.86 L513.93,234.47 L522.31,238.15 L530.69,237.27 L539.08,239.70 L547.46,240.04 L555.84,238.05 L564.22,234.89 L572.60,235.46 L580.99,230.19 L589.37,231.22 L597.75,220.93 L606.13,212.19 L614.51,208.45 L622.90,205.39 L631.28,202.77 L639.66,203.65 L648.04,205.09 L656.42,203.66 L664.81,207.03 L673.19,200.56 L681.57,198.43 M388.20,201.89 L396.58,203.52 L404.96,197.96 L413.35,199.56 L421.73,200.32 L430.11,194.33 L438.49,197.77 L446.87,195.03 L455.26,196.08 L463.64,195.68 L472.02,194.83 L480.40,195.07 L488.78,195.60 L497.17,204.41 L505.55,218.23 L513.93,220.46 L522.31,226.88 L530.69,230.64 L539.08,228.08 L547.46,228.68 L555.84,223.00 L564.22,224.25 L572.60,224.01 L580.99,216.75 L589.37,214.25 L597.75,205.60 L606.13,200.37 L614.51,194.12 L622.90,189.34 L631.28,194.29 L639.66,189.67 L648.04,189.18 L656.42,182.77 L664.81,178.14 L673.19,179.32 L681.57,179.33 M388.20,226.14 L396.58,231.34 L404.96,232.43 L413.35,230.70 L421.73,233.21 L430.11,231.47 L438.49,228.82 L446.87,229.72 L455.26,225.65 L463.64,220.75 L472.02,223.49 L480.40,223.54 L488.78,225.11 L497.17,229.73 L505.55,237.19 L513.93,245.68 L522.31,249.44 L530.69,251.74 L539.08,253.99 L547.46,252.83 L555.84,254.64 L564.22,251.94 L572.60,248.90 L580.99,248.26 L589.37,247.33 L597.75,241.17 L606.13,229.28 L614.51,220.35 L622.90,215.31 L631.28,217.01 L639.66,220.34 L648.04,220.00 L656.42,217.81 L664.81,212.33 L673.19,209.69 L681.57,211.45 M388.20,212.60 L396.58,211.73 L404.96,213.96 L413.35,209.67 L421.73,211.76 L430.11,210.15 L438.49,210.43 L446.87,208.07 L455.26,208.68 L463.64,208.31 L472.02,205.74 L480.40,207.81 L488.78,210.21 L497.17,224.81 L505.55,234.84 L513.93,242.98 L522.31,248.13 L530.69,246.66 L539.08,240.53 L547.46,241.12 L555.84,238.95 L564.22,243.71 L572.60,240.46 L580.99,242.13 L589.37,231.51 L597.75,217.58 L606.13,213.71 L614.51,210.31 L622.90,212.58 L631.28,211.86 L639.66,213.34 L648.04,211.62 L656.42,210.57 L664.81,213.65 L673.19,209.94 L681.57,209.15 M388.20,200.37 L396.58,196.00 L404.96,192.21 L413.35,188.63 L421.73,187.83 L430.11,189.25 L438.49,185.54 L446.87,186.75 L455.26,186.39 L463.64,186.55 L472.02,186.58 L480.40,181.83 L488.78,193.52 L497.17,204.76 L505.55,211.09 L513.93,217.53 L522.31,219.84 L530.69,224.80 L539.08,221.65 L547.46,220.89 L555.84,219.84 L564.22,218.03 L572.60,214.12 L580.99,210.36 L589.37,206.60 L597.75,197.67 L606.13,191.90 L614.51,184.98 L622.90,184.24 L631.28,181.73 L639.66,184.33 L648.04,182.77 L656.42,181.88 L664.81,180.12 L673.19,176.09 L681.57,182.80 M388.20,206.84 L396.58,207.56 L404.96,207.76 L413.35,205.00 L421.73,205.46 L430.11,201.20 L438.49,202.91 L446.87,204.63 L455.26,205.78 L463.64,203.03 L472.02,199.48 L480.40,203.57 L488.78,202.19 L497.17,209.58 L505.55,222.94 L513.93,229.39 L522.31,238.03 L530.69,242.14 L539.08,237.26 L547.46,234.05 L555.84,231.91 L564.22,230.91 L572.60,232.59 L580.99,227.82 L589.37,224.20 L597.75,211.22 L606.13,204.24 L614.51,203.76 L622.90,198.51 L631.28,196.01 L639.66,194.63 L648.04,197.14 L656.42,198.02 L664.81,193.16 L673.19,192.79 L681.57,192.41 M388.20,232.74 L396.58,232.76 L404.96,234.85 L413.35,231.35 L421.73,237.75 L430.11,236.04 L438.49,233.51 L446.87,236.79 L455.26,235.19 L463.64,230.53 L472.02,231.85 L480.40,235.36 L488.78,232.50 L497.17,240.03 L505.55,246.90 L513.93,250.13 L522.31,260.13 L530.69,260.36 L539.08,259.70 L547.46,253.69 L555.84,255.20 L564.22,247.86 L572.60,248.93 L580.99,249.27 L589.37,238.67 L597.75,227.73 L606.13,222.86 L614.51,221.59 L622.90,220.33 L631.28,222.34 L639.66,220.82 L648.04,220.78 L656.42,218.04 L664.81,215.45 L673.19,209.88 L681.57,206.59 M388.20,212.05 L396.58,213.10 L404.96,208.98 L413.35,206.90 L421.73,206.71 L430.11,209.54 L438.49,207.83 L446.87,207.92 L455.26,204.37 L463.64,203.08 L472.02,204.50 L480.40,206.57 L488.78,203.80 L497.17,212.47 L505.55,222.98 L513.93,233.75 L522.31,236.67 L530.69,237.69 L539.08,239.70 L547.46,239.34 L555.84,236.09 L564.22,242.11 L572.60,236.55 L580.99,235.00 L589.37,229.37 L597.75,216.50 L606.13,208.19 L614.51,208.41 L622.90,205.74 L631.28,204.65 L639.66,202.77 L648.04,201.01 L656.42,201.83 L664.81,198.53 L673.19,199.06 L681.57,196.57 M388.20,216.98 L396.58,218.62 L404.96,214.83 L413.35,219.05 L421.73,222.26 L430.11,217.97 L438.49,221.41 L446.87,217.28 L455.26,215.35 L463.64,215.72 L472.02,215.31 L480.40,215.90 L488.78,218.76 L497.17,230.08 L505.55,243.40 L513.93,247.57 L522.31,247.30 L530.69,245.93 L539.08,244.64 L547.46,244.65 L555.84,245.80 L564.22,239.88 L572.60,242.15 L580.99,243.68 L589.37,235.60 L597.75,216.12 L606.13,213.26 L614.51,215.49 L622.90,211.38 L631.28,209.93 L639.66,214.63 L648.04,209.36 L656.42,208.26 L664.81,205.51 L673.19,202.30 L681.57,205.05 M388.20,194.34 L396.58,194.40 L404.96,190.20 L413.35,192.17 L421.73,192.09 L430.11,189.36 L438.49,191.21 L446.87,192.32 L455.26,188.45 L463.64,187.30 L472.02,188.67 L480.40,185.67 L488.78,189.98 L497.17,196.66 L505.55,209.96 L513.93,218.98 L522.31,226.33 L530.69,226.81 L539.08,228.38 L547.46,227.66 L555.84,225.49 L564.22,224.17 L572.60,220.75 L580.99,221.11 L589.37,217.33 L597.75,210.78 L606.13,204.20 L614.51,198.99 L622.90,196.16 L631.28,192.49 L639.66,191.71 L648.04,190.59 L656.42,194.38 L664.81,192.41 L673.19,186.51 L681.57,184.63 M388.20,225.83 L396.58,225.11 L404.96,222.14 L413.35,220.02 L421.73,222.73 L430.11,224.02 L438.49,224.43 L446.87,222.82 L455.26,217.43 L463.64,222.00 L472.02,220.38 L480.40,225.24 L488.78,226.99 L497.17,234.03 L505.55,238.07 L513.93,240.92 L522.31,244.98 L530.69,249.20 L539.08,251.63 L547.46,248.64 L555.84,251.20 L564.22,251.99 L572.60,250.21 L580.99,247.86 L589.37,250.28 L597.75,238.51 L606.13,220.56 L614.51,217.09 L622.90,216.63 L631.28,217.32 L639.66,214.88 L648.04,214.01 L656.42,213.87 L664.81,213.09 L673.19,215.78 L681.57,213.95 M388.20,203.35 L396.58,202.36 L404.96,201.61 L413.35,196.45 L421.73,195.52 L430.11,199.45 L438.49,195.86 L446.87,194.51 L455.26,194.15 L463.64,193.92 L472.02,192.54 L480.40,188.29 L488.78,193.04 L497.17,202.10 L505.55,212.46 L513.93,226.61 L522.31,227.95 L530.69,231.43 L539.08,229.98 L547.46,227.19 L555.84,222.20 L564.22,223.11 L572.60,222.32 L580.99,217.76 L589.37,210.87 L597.75,206.70 L606.13,200.31 L614.51,193.42 L622.90,186.65 L631.28,188.59 L639.66,189.40 L648.04,188.93 L656.42,187.10 L664.81,183.97 L673.19,184.88 L681.57,184.15 M388.20,215.46 L396.58,214.10 L404.96,216.69 L413.35,209.20 L421.73,211.38 L430.11,211.67 L438.49,212.62 L446.87,208.39 L455.26,204.99 L463.64,206.28 L472.02,206.96 L480.40,207.11 L488.78,205.32 L497.17,214.86 L505.55,228.39 L513.93,235.02 L522.31,235.67 L530.69,237.84 L539.08,235.90 L547.46,234.12 L555.84,232.86 L564.22,229.58 L572.60,224.61 L580.99,223.65 L589.37,219.13 L597.75,210.45 L606.13,202.95 L614.51,199.29 L622.90,197.66 L631.28,192.92 L639.66,191.30 L648.04,187.91 L656.42,186.94 L664.81,187.56 L673.19,183.50 L681.57,182.83 M388.20,206.83 L396.58,205.79 L404.96,204.29 L413.35,200.80 L421.73,201.64 L430.11,204.98 L438.49,205.13 L446.87,201.60 L455.26,204.58 L463.64,203.85 L472.02,202.69 L480.40,203.02 L488.78,204.95 L497.17,211.36 L505.55,223.53 L513.93,236.03 L522.31,235.58 L530.69,236.79 L539.08,239.05 L547.46,238.02 L555.84,238.96 L564.22,232.97 L572.60,233.99 L580.99,232.11 L589.37,227.00 L597.75,213.63 L606.13,207.26 L614.51,206.76 L622.90,204.00 L631.28,201.64 L639.66,203.77 L648.04,202.97 L656.42,205.16 L664.81,198.98 L673.19,200.50 L681.57,197.57" fill="none" stroke="#7cc95a" stroke-width="1.2" stroke-linejoin="round"/>
<path d="M65.40,524.80 L73.81,526.06 L82.22,526.91 L90.62,524.03 L99.03,519.11 L107.44,517.77 L115.84,516.56 L124.25,510.71 L132.66,512.57 L141.07,513.23 L149.48,511.71 L157.88,516.28 L166.29,519.05 L174.70,518.73 L183.11,514.14 L191.51,513.03 L199.92,514.39 L208.33,510.99 L216.74,519.10 L225.14,515.33 L233.55,513.75 L241.96,521.10 L250.37,522.64 L258.77,528.23 L267.18,529.17 L275.59,527.00 L284.00,528.42 M65.40,496.16 L73.81,494.52 L82.22,493.33 L90.62,486.74 L99.03,481.81 L107.44,476.87 L115.84,474.48 L124.25,472.73 L132.66,475.46 L141.07,480.68 L149.48,488.72 L157.88,487.57 L166.29,486.26 L174.70,486.58 L183.11,485.68 L191.51,485.56 L199.92,485.60 L208.33,485.84 L216.74,489.66 L225.14,489.80 L233.55,488.83 L241.96,490.56 L250.37,492.75 L258.77,494.77 L267.18,492.69 L275.59,498.96 L284.00,497.93 M65.40,521.15 L73.81,520.40 L82.22,519.75 L90.62,519.47 L99.03,519.28 L107.44,521.48 L115.84,509.69 L124.25,504.74 L132.66,506.27 L141.07,510.15 L149.48,514.46 L157.88,512.04 L166.29,514.45 L174.70,514.36 L183.11,510.54 L191.51,519.76 L199.92,523.36 L208.33,522.22 L216.74,521.40 L225.14,527.42 M65.40,501.08 L73.81,503.51 L82.22,501.85 L90.62,502.10 L99.03,498.66 L107.44,494.08 L115.84,487.62 L124.25,485.49 L132.66,491.39 L141.07,488.76 L149.48,488.74 L157.88,492.12 L166.29,494.80 L174.70,495.15 L183.11,498.08 L191.51,493.40 L199.92,495.59 L208.33,496.37 M65.40,503.62 L73.81,501.65 L82.22,503.00 L90.62,498.65 L99.03,489.33 L107.44,482.81 L115.84,481.36 L124.25,476.69 L132.66,481.66 L141.07,485.97 L149.48,491.89 L157.88,491.87 L166.29,491.11 L174.70,492.89 L183.11,488.97 L191.51,488.31 L199.92,487.76 L208.33,492.17 L216.74,492.20 L225.14,491.92 M65.40,502.60 L73.81,501.98 L82.22,497.78 L90.62,496.19 L99.03,489.04 L107.44,483.26 L115.84,481.17 L124.25,476.10 L132.66,483.86 L141.07,482.92 L149.48,485.28 L157.88,488.24 L166.29,494.08 L174.70,492.53 L183.11,493.42 L191.51,500.86 L199.92,500.18 L208.33,499.63 L216.74,500.78 L225.14,500.41 L233.55,500.95 L241.96,494.55 L250.37,492.25 L258.77,494.83 L267.18,491.70 L275.59,488.22 L284.00,490.40 M65.40,517.16 L73.81,515.77 L82.22,511.81 L90.62,513.53 L99.03,508.94 L107.44,500.35 L115.84,495.21 L124.25,493.65 L132.66,496.99 L141.07,501.11 L149.48,505.50 L157.88,504.86 L166.29,505.30 L174.70,509.22 L183.11,513.02 L191.51,510.76 L199.92,509.27 L208.33,515.17 L216.74,523.47 L225.14,522.73 L233.55,520.43 L241.96,518.27 L250.37,517.99 L258.77,524.85 L267.18,524.29 L275.59,524.53 L284.00,525.60 M65.40,507.00 L73.81,508.81 L82.22,508.97 L90.62,507.60 L99.03,498.94 L107.44,489.70 L115.84,490.46 L124.25,490.35 L132.66,493.79 L141.07,497.94 L149.48,498.57 L157.88,497.96 L166.29,498.85 L174.70,498.92 L183.11,503.86 L191.51,501.95 L199.92,499.57 L208.33,495.24 L216.74,498.98 L225.14,503.51 M65.40,507.93 L73.81,508.58 L82.22,508.69 L90.62,509.33 L99.03,505.79 L107.44,498.07 L115.84,488.97 L124.25,485.35 L132.66,488.92 L141.07,490.02 L149.48,491.75 L157.88,491.69 L166.29,496.32 L174.70,496.07 L183.11,494.78 L191.51,500.16 L199.92,499.00 L208.33,497.75 L216.74,498.12 L225.14,497.93 L233.55,497.62 L241.96,496.66 L250.37,495.01 L258.77,497.51 L267.18,493.06 L275.59,498.62 L284.00,500.26 M65.40,519.70 L73.81,522.68 L82.22,526.45 L90.62,525.16 L99.03,516.73 L107.44,515.79 L115.84,514.74 L124.25,501.82 L132.66,502.79 L141.07,504.38 L149.48,509.22 L157.88,509.73 L166.29,512.74 L174.70,512.06 L183.11,512.75 L191.51,514.96 L199.92,514.32 L208.33,518.23 L216.74,519.94 L225.14,522.66 M65.40,503.89 L73.81,503.97 L82.22,500.61 L90.62,497.82 L99.03,492.17 L107.44,485.06 L115.84,482.15 L124.25,485.91 L132.66,491.74 L141.07,498.41 L149.48,502.99 L157.88,500.71 L166.29,500.48 L174.70,499.89 L183.11,499.17 L191.51,500.94 L199.92,498.11 L208.33,495.70 L216.74,501.97 L225.14,500.34 L233.55,500.78 L241.96,507.58 L250.37,509.49 L258.77,512.98 L267.18,518.57 L275.59,515.95 L284.00,518.60 M65.40,495.83 L73.81,497.75 L82.22,497.03 L90.62,490.29 L99.03,485.64 L107.44,482.74 L115.84,480.54 L124.25,478.17 L132.66,479.51 L141.07,485.84 L149.48,485.99 L157.88,490.11 L166.29,494.19 L174.70,492.48 L183.11,493.19 L191.51,494.64 L199.92,495.90 L208.33,501.41 L216.74,501.82 M65.40,507.24 L73.81,507.33 L82.22,505.45 L90.62,504.53 L99.03,501.74 L107.44,488.29 L115.84,488.65 L124.25,488.60 L132.66,487.86 L141.07,492.42 L149.48,502.33 L157.88,501.84 L166.29,505.27 L174.70,502.21 L183.11,509.47 L191.51,509.56 L199.92,506.58 L208.33,502.84 L216.74,504.42 L225.14,505.96 L233.55,510.91 L241.96,514.31 L250.37,519.67 L258.77,517.30 L267.18,515.22 L275.59,514.94 L284.00,518.65 M65.40,508.35 L73.81,508.22 L82.22,503.00 L90.62,499.62 L99.03,496.21 L107.44,489.91 L115.84,486.42 L124.25,487.64 L132.66,490.71 L141.07,493.63 L149.48,496.92 L157.88,492.88 L166.29,497.31 L174.70,496.79 L183.11,495.00 L191.51,498.01 L199.92,499.01 L208.33,499.25 M65.40,518.27 L73.81,520.75 L82.22,518.31 L90.62,518.71 L99.03,511.21 L107.44,507.36 L115.84,496.55 L124.25,499.79 L132.66,497.68 L141.07,496.64 L149.48,498.32 L157.88,503.60 L166.29,504.94 L174.70,505.68 L183.11,507.38 L191.51,506.81 L199.92,508.10 L208.33,508.19 L216.74,506.97 L225.14,510.69 L233.55,514.25 L241.96,514.35 L250.37,516.91 L258.77,523.51 L267.18,522.27 L275.59,519.70 L284.00,520.43 M65.40,523.51 L73.81,521.45 L82.22,522.92 L90.62,517.69 L99.03,512.43 L107.44,502.63 L115.84,500.47 L124.25,497.50 L132.66,497.37 L141.07,502.79 L149.48,502.82 L157.88,503.39 L166.29,512.56 L174.70,516.07 L183.11,515.07 L191.51,510.83 L199.92,513.93 L208.33,519.99 L216.74,525.80 L225.14,523.10 M65.40,506.76 L73.81,508.37 L82.22,509.68 L90.62,505.82 L99.03,493.32 L107.44,487.15 L115.84,483.10 L124.25,485.69 L132.66,488.20 L141.07,488.28 L149.48,489.87 L157.88,493.07 L166.29,499.02 L174.70,495.56 L183.11,493.34 L191.51,493.10 L199.92,496.60 L208.33,497.94 L216.74,498.27 M65.40,512.97 L73.81,512.44 L82.22,517.67 L90.62,507.73 L99.03,505.50 L107.44,506.76 L115.84,503.62 L124.25,496.95 L132.66,497.00 L141.07,496.11 L149.48,496.28 L157.88,498.68 L166.29,498.18 L174.70,504.63 L183.11,502.32 L191.51,502.81 L199.92,501.33 L208.33,502.40 L216.74,506.48 L225.14,509.34 L233.55,515.35 L241.96,514.64 L250.37,509.82 L258.77,506.39 L267.18,511.13 L275.59,511.57 L284.00,511.11 M65.40,517.55 L73.81,517.65 L82.22,516.04 L90.62,509.29 L99.03,512.82 L107.44,511.16 L115.84,505.88 L124.25,500.66 L132.66,499.30 L141.07,495.51 L149.48,501.17 L157.88,500.87 L166.29,502.95 L174.70,502.83 L183.11,502.08 L191.51,501.78 L199.92,501.35 L208.33,505.63 L216.74,504.42 L225.14,503.88 L233.55,510.53 L241.96,507.91 L250.37,508.59 L258.77,509.62 L267.18,509.65 L275.59,502.28 L284.00,507.62 M65.40,499.43 L73.81,502.70 L82.22,500.05 L90.62,492.33 L99.03,491.08 L107.44,481.29 L115.84,478.25 L124.25,477.45 L132.66,480.27 L141.07,482.42 L149.48,484.23 L157.88,486.23 L166.29,485.60 L174.70,485.45 L183.11,488.97 L191.51,486.64 L199.92,485.60 L208.33,485.61 L216.74,485.51 L225.14,489.39 L233.55,490.51 L241.96,490.54 L250.37,490.59 L258.77,495.35 L267.18,491.50 L275.59,488.22 L284.00,493.18 M65.40,499.53 L73.81,500.70 L82.22,498.70 L90.62,491.12 L99.03,491.58 L107.44,481.38 L115.84,478.22 L124.25,481.71 L132.66,480.15 L141.07,481.47 L149.48,484.76 L157.88,488.14 L166.29,493.64 L174.70,493.35 L183.11,496.32 L191.51,497.87 L199.92,495.25 L208.33,497.24 L216.74,501.13 L225.14,500.99" fill="none" stroke="#7cc95a" stroke-width="1.2" stroke-linejoin="round"/>
<path d="M65.40,684.62 L73.81,685.18 L82.22,685.91 L90.62,685.56 L99.03,682.41 L107.44,679.32 L115.84,674.83 L124.25,671.57 L132.66,671.50 L141.07,672.71 L149.48,674.23 L157.88,674.11 L166.29,676.76 L174.70,677.90 L183.11,679.32 L191.51,678.50 L199.92,677.74 L208.33,677.39 M65.40,679.21 L73.81,680.32 L82.22,681.58 L90.62,681.40 L99.03,677.41 L107.44,671.66 L115.84,668.27 L124.25,665.13 L132.66,663.73 L141.07,666.01 L149.48,669.80 L157.88,672.61 L166.29,675.55 L174.70,675.96 L183.11,676.44 L191.51,674.65 L199.92,675.93 L208.33,675.75 L216.74,675.62 L225.14,675.67 L233.55,676.03 L241.96,674.93 L250.37,675.50 L258.77,675.80 L267.18,675.75 L275.59,676.02 L284.00,675.60 M65.40,673.89 L73.81,672.93 L82.22,672.24 L90.62,669.97 L99.03,663.59 L107.44,659.12 L115.84,659.04 L124.25,656.89 L132.66,658.68 L141.07,658.50 L149.48,659.38 L157.88,658.38 L166.29,659.92 L174.70,663.35 L183.11,664.48 L191.51,663.33 L199.92,663.73 M65.40,676.93 L73.81,675.76 L82.22,677.65 L90.62,675.63 L99.03,669.95 L107.44,665.30 L115.84,665.05 L124.25,664.35 L132.66,663.69 L141.07,662.39 L149.48,665.79 L157.88,667.30 L166.29,667.74 L174.70,668.63 L183.11,669.20 L191.51,667.98 L199.92,667.58 L208.33,670.20 M65.40,676.14 L73.81,675.81 L82.22,674.95 L90.62,672.94 L99.03,668.06 L107.44,664.98 L115.84,664.35 L124.25,664.18 L132.66,662.32 L141.07,663.78 L149.48,664.58 L157.88,666.90 L166.29,669.21 L174.70,671.31 L183.11,673.19 L191.51,673.43 L199.92,673.16 L208.33,674.77 M65.40,681.44 L73.81,680.73 L82.22,681.09 L90.62,680.37 L99.03,675.27 L107.44,672.75 L115.84,669.66 L124.25,667.02 L132.66,668.57 L141.07,670.03 L149.48,668.83 L157.88,672.34 L166.29,672.73 L174.70,675.25 L183.11,676.22 L191.51,676.79 L199.92,676.60 L208.33,676.54 M65.40,673.43 L73.81,672.52 L82.22,671.12 L90.62,668.65 L99.03,664.65 L107.44,660.41 L115.84,658.71 L124.25,655.12 L132.66,656.07 L141.07,658.29 L149.48,659.46 L157.88,658.94 L166.29,661.81 L174.70,663.64 L183.11,663.84 L191.51,662.91 L199.92,662.29 M65.40,680.90 L73.81,682.54 L82.22,682.42 L90.62,682.45 L99.03,680.93 L107.44,677.73 L115.84,674.08 L124.25,672.18 L132.66,672.88 L141.07,673.04 L149.48,674.63 L157.88,676.90 L166.29,679.78 L174.70,679.57 L183.11,681.96 L191.51,681.08 L199.92,681.01 L208.33,679.77 M65.40,672.98 L73.81,671.44 L82.22,669.95 L90.62,668.93 L99.03,664.53 L107.44,659.65 L115.84,660.19 L124.25,659.53 L132.66,660.21 L141.07,659.00 L149.48,660.15 L157.88,662.60 L166.29,666.20 L174.70,667.92 L183.11,669.92 L191.51,672.39 L199.92,672.99 L208.33,674.45 M65.40,681.34 L73.81,682.13 L82.22,682.63 L90.62,681.83 L99.03,678.77 L107.44,675.90 L115.84,673.04 L124.25,670.73 L132.66,671.85 L141.07,671.86 L149.48,674.56 L157.88,678.14 L166.29,680.54 L174.70,680.33 L183.11,681.20 L191.51,680.44 L199.92,680.49 L208.33,680.12 M65.40,673.46 L73.81,672.03 L82.22,671.25 L90.62,669.19 L99.03,665.16 L107.44,658.75 L115.84,656.78 L124.25,656.89 L132.66,656.91 L141.07,659.44 L149.48,661.65 L157.88,662.47 L166.29,664.82 L174.70,667.04 L183.11,666.94 L191.51,666.52 L199.92,667.03 M65.40,679.07 L73.81,679.49 L82.22,680.14 L90.62,678.46 L99.03,675.01 L107.44,672.48 L115.84,669.80 L124.25,668.15 L132.66,668.73 L141.07,669.14 L149.48,670.94 L157.88,673.21 L166.29,671.45 L174.70,674.62 L183.11,675.63 L191.51,675.80 L199.92,676.57 L208.33,676.92 M65.40,673.55 L73.81,673.80 L82.22,673.77 L90.62,671.26 L99.03,666.89 L107.44,662.86 L115.84,659.56 L124.25,658.98 L132.66,661.22 L141.07,662.05 L149.48,662.87 L157.88,664.93 L166.29,664.04 L174.70,666.23 L183.11,668.76 L191.51,669.38 L199.92,668.94 L208.33,670.71 L216.74,673.10 L225.14,673.58 L233.55,674.19 L241.96,674.59 L250.37,676.11 L258.77,676.10 L267.18,675.96 L275.59,675.55 L284.00,676.21 M65.40,678.61 L73.81,678.78 L82.22,678.49 L90.62,675.28 L99.03,669.78 L107.44,664.25 L115.84,664.79 L124.25,664.82 L132.66,664.56 L141.07,666.40 L149.48,666.39 L157.88,664.54 L166.29,668.81 L174.70,669.61 L183.11,671.44 L191.51,671.46 L199.92,672.37 L208.33,674.36 M65.40,671.59 L73.81,671.15 L82.22,668.44 L90.62,666.55 L99.03,661.08 L107.44,657.12 L115.84,655.69 L124.25,654.35 L132.66,657.52 L141.07,658.82 L149.48,659.06 L157.88,661.76 L166.29,663.72 L174.70,667.38 L183.11,668.72 L191.51,668.72 L199.92,669.40 L208.33,669.41 L216.74,672.76 L225.14,673.52 L233.55,673.60 L241.96,673.79 L250.37,674.31 L258.77,674.17 L267.18,675.00 L275.59,675.66 L284.00,675.88 M65.40,673.49 L73.81,673.39 L82.22,673.11 L90.62,671.52 L99.03,666.98 L107.44,662.97 L115.84,659.39 L124.25,656.98 L132.66,657.81 L141.07,658.99 L149.48,661.04 L157.88,661.73 L166.29,663.05 L174.70,665.66 L183.11,666.68 L191.51,667.80 L199.92,667.66 L208.33,668.14 M65.40,674.93 L73.81,674.44 L82.22,674.25 L90.62,673.67 L99.03,669.75 L107.44,664.55 L115.84,662.66 L124.25,660.53 L132.66,660.34 L141.07,661.37 L149.48,663.35 L157.88,665.03 L166.29,665.69 L174.70,669.23 L183.11,669.15 L191.51,668.42 L199.92,669.55 L208.33,669.54 M65.40,672.45 L73.81,672.16 L82.22,669.91 L90.62,667.31 L99.03,664.10 L107.44,657.88 L115.84,656.39 L124.25,654.88 L132.66,657.19 L141.07,660.30 L149.48,662.45 L157.88,662.89 L166.29,662.81 L174.70,663.00 L183.11,663.69 L191.51,664.83 L199.92,665.25 L208.33,665.18 M65.40,677.16 L73.81,676.60 L82.22,675.09 L90.62,674.17 L99.03,669.45 L107.44,663.61 L115.84,661.03 L124.25,660.00 L132.66,661.13 L141.07,663.13 L149.48,663.46 L157.88,664.99 L166.29,664.60 L174.70,665.64 L183.11,669.54 L191.51,668.14 L199.92,666.47 M65.40,683.57 L73.81,683.12 L82.22,683.16 L90.62,684.53 L99.03,678.70 L107.44,675.59 L115.84,672.25 L124.25,672.17 L132.66,673.43 L141.07,673.99 L149.48,674.80 L157.88,676.13 L166.29,679.47 L174.70,679.54 L183.11,679.34 L191.51,678.43 L199.92,678.98 L208.33,679.24 M65.40,678.63 L73.81,679.19 L82.22,679.07 L90.62,677.30 L99.03,672.73 L107.44,669.42 L115.84,667.04 L124.25,663.78 L132.66,666.89 L141.07,667.39 L149.48,670.14 L157.88,671.08 L166.29,672.58 L174.70,673.80 L183.11,675.70 L191.51,676.38 L199.92,677.72 L208.33,677.51 M65.40,674.73 L73.81,675.13 L82.22,675.34 L90.62,673.79 L99.03,669.88 L107.44,664.68 L115.84,661.45 L124.25,659.53 L132.66,660.68 L141.07,662.71 L149.48,662.53 L157.88,662.35 L166.29,664.53 L174.70,669.38 L183.11,670.57 L191.51,671.31 L199.92,671.46 L208.33,671.09 L216.74,672.61 L225.14,673.87 L233.55,674.18 L241.96,674.93 L250.37,675.00 L258.77,674.50 L267.18,675.02 L275.59,675.55 L284.00,675.31 M65.40,681.39 L73.81,682.38 L82.22,682.06 L90.62,682.23 L99.03,678.31 L107.44,674.88 L115.84,673.44 L124.25,668.66 L132.66,670.22 L141.07,669.53 L149.48,671.79 L157.88,673.28 L166.29,674.74 L174.70,674.60 L183.11,677.03 L191.51,677.96 L199.92,677.78 M65.40,683.06 L73.81,684.66 L82.22,682.84 L90.62,683.53 L99.03,680.84 L107.44,678.86 L115.84,674.46 L124.25,672.53 L132.66,674.53 L141.07,674.11 L149.48,675.23 L157.88,678.41 L166.29,679.30 L174.70,680.38 L183.11,680.83 L191.51,679.96 L199.92,680.41 L208.33,679.47 M65.40,670.73 L73.81,669.50 L82.22,668.15 L90.62,665.54 L99.03,659.78 L107.44,656.33 L115.84,653.39 L124.25,653.94 L132.66,654.75 L141.07,656.07 L149.48,657.08 L157.88,656.90 L166.29,658.31 L174.70,660.39 L183.11,662.07 L191.51,661.08 L199.92,660.10 L208.33,659.81 M65.40,676.22 L73.81,675.36 L82.22,675.01 L90.62,674.38 L99.03,669.17 L107.44,664.44 L115.84,663.36 L124.25,660.73 L132.66,661.78 L141.07,661.91 L149.48,663.28 L157.88,665.94 L166.29,668.17 L174.70,669.29 L183.11,670.67 L191.51,671.68 L199.92,671.16 L208.33,672.56 L216.74,673.18 L225.14,673.31 L233.55,674.94 L241.96,675.44 L250.37,675.08 L258.77,674.96 L267.18,674.63 L275.59,674.90 L284.00,675.39" fill="none" stroke="#7cc95a" stroke-width="1.6" stroke-linejoin="round"/>
<path d="M388.00,493.66 L396.38,490.64 L404.76,492.08 L413.15,495.47 L421.53,491.96 L429.91,491.19 L438.29,490.22 L446.67,494.53 L455.06,490.63 L463.44,490.39 L471.82,488.63 L480.20,486.99 L488.58,482.09 L496.97,465.86 L505.35,456.95 L513.73,455.50 L522.11,446.80 L530.49,449.69 L538.88,452.79 L547.26,461.89 L555.64,460.84 L564.02,464.37 L572.40,460.95 L580.79,462.56 L589.17,468.81 L597.55,476.99 L605.93,482.74 L614.31,481.49 L622.70,483.46 L631.08,487.12 L639.46,490.51 L647.84,494.07 L656.22,498.72 L664.61,499.26 L672.99,498.22 L681.37,495.81 M388.00,506.30 L396.38,511.34 L404.76,508.59 L413.15,511.61 L421.53,508.84 L429.91,508.41 L438.29,510.78 L446.67,511.39 L455.06,508.89 L463.44,512.18 L471.82,516.27 L480.20,509.34 L488.58,502.97 L496.97,506.50 L505.35,494.52 L513.73,485.25 L522.11,478.45 L530.49,479.67 L538.88,475.78 L547.26,481.06 L555.64,483.41 L564.02,488.58 L572.40,484.72 L580.79,487.35 L589.17,488.48 L597.55,488.75 L605.93,495.44 L614.31,497.68 L622.70,503.20 L631.08,503.92 L639.46,506.08 L647.84,508.83 L656.22,511.17 L664.61,512.73 L672.99,511.35 L681.37,511.94 M388.00,500.46 L396.38,502.08 L404.76,502.24 L413.15,503.25 L421.53,506.37 L429.91,500.40 L438.29,502.71 L446.67,503.90 L455.06,501.87 L463.44,505.99 L471.82,502.63 L480.20,499.15 L488.58,498.91 L496.97,491.80 L505.35,483.72 L513.73,472.21 L522.11,465.66 L530.49,464.54 L538.88,469.52 L547.26,469.66 L555.64,471.91 L564.02,477.24 L572.40,478.79 L580.79,477.65 L589.17,477.17 L597.55,480.57 L605.93,487.28 L614.31,491.95 L622.70,495.29 L631.08,496.27 L639.46,499.56 L647.84,501.51 L656.22,502.10 L664.61,505.25 L672.99,506.08 L681.37,506.94 M388.00,517.65 L396.38,518.59 L404.76,520.52 L413.15,516.32 L421.53,518.18 L429.91,527.59 L438.29,525.56 L446.67,523.30 L455.06,522.62 L463.44,524.14 L471.82,523.04 L480.20,522.63 L488.58,522.45 L496.97,516.40 L505.35,510.07 L513.73,501.46 L522.11,494.23 L530.49,492.41 L538.88,496.28 L547.26,498.15 L555.64,497.53 L564.02,498.34 L572.40,509.28 L580.79,498.60 L589.17,504.37 L597.55,502.68 L605.93,508.75 L614.31,509.20 L622.70,512.96 L631.08,515.69 L639.46,518.52 L647.84,520.56 L656.22,520.93 L664.61,524.18 L672.99,523.98 L681.37,524.08 M388.00,509.17 L396.38,509.43 L404.76,511.43 L413.15,515.03 L421.53,513.87 L429.91,512.99 L438.29,512.43 L446.67,512.24 L455.06,515.56 L463.44,510.70 L471.82,509.20 L480.20,508.22 L488.58,508.26 L496.97,505.26 L505.35,500.35 L513.73,489.12 L522.11,479.59 L530.49,476.42 L538.88,475.51 L547.26,480.82 L555.64,483.27 L564.02,484.67 L572.40,489.32 L580.79,495.76 L589.17,492.72 L597.55,493.01 L605.93,489.84 L614.31,499.24 L622.70,502.67 L631.08,500.50 L639.46,509.44 L647.84,510.01 L656.22,512.58 L664.61,516.64 L672.99,515.35 L681.37,516.22 M388.00,513.23 L396.38,516.29 L404.76,511.06 L413.15,512.22 L421.53,515.53 L429.91,513.01 L438.29,508.52 L446.67,514.39 L455.06,514.84 L463.44,512.09 L471.82,510.32 L480.20,508.93 L488.58,507.70 L496.97,496.03 L505.35,486.44 L513.73,480.40 L522.11,474.40 L530.49,478.89 L538.88,478.57 L547.26,483.00 L555.64,484.71 L564.02,485.28 L572.40,484.41 L580.79,485.04 L589.17,489.32 L597.55,489.25 L605.93,494.39 L614.31,496.97 L622.70,499.37 L631.08,504.87 L639.46,507.42 L647.84,509.62 L656.22,510.18 L664.61,507.55 L672.99,506.85 L681.37,503.81 M388.00,522.36 L396.38,526.57 L404.76,530.56 L413.15,530.02 L421.53,530.50 L429.91,532.54 L438.29,531.09 L446.67,528.91 L455.06,528.98 L463.44,526.28 L471.82,525.77 L480.20,525.67 L488.58,522.79 L496.97,518.12 L505.35,509.35 L513.73,496.03 L522.11,493.75 L530.49,501.46 L538.88,499.99 L547.26,497.63 L555.64,501.97 L564.02,502.81 L572.40,510.15 L580.79,506.64 L589.17,512.08 L597.55,506.63 L605.93,512.50 L614.31,511.05 L622.70,516.04 L631.08,517.30 L639.46,518.72 L647.84,520.77 L656.22,524.73 L664.61,522.37 L672.99,523.09 L681.37,519.41 M388.00,502.83 L396.38,504.25 L404.76,501.25 L413.15,500.55 L421.53,501.52 L429.91,500.58 L438.29,504.06 L446.67,504.98 L455.06,498.80 L463.44,501.06 L471.82,499.41 L480.20,501.23 L488.58,493.19 L496.97,479.97 L505.35,468.36 L513.73,465.99 L522.11,458.91 L530.49,459.95 L538.88,470.62 L547.26,471.46 L555.64,471.63 L564.02,472.27 L572.40,470.24 L580.79,469.90 L589.17,476.69 L597.55,481.11 L605.93,481.68 L614.31,482.68 L622.70,488.02 L631.08,487.18 L639.46,495.54 L647.84,492.80 L656.22,495.31 L664.61,499.07 L672.99,500.11 L681.37,499.37 M388.00,507.84 L396.38,509.21 L404.76,511.77 L413.15,511.93 L421.53,515.49 L429.91,514.53 L438.29,515.60 L446.67,514.80 L455.06,512.24 L463.44,512.93 L471.82,516.48 L480.20,509.86 L488.58,509.65 L496.97,503.46 L505.35,495.38 L513.73,483.67 L522.11,480.57 L530.49,476.12 L538.88,484.55 L547.26,483.16 L555.64,487.76 L564.02,488.66 L572.40,492.77 L580.79,497.31 L589.17,492.63 L597.55,495.38 L605.93,498.36 L614.31,502.09 L622.70,509.64 L631.08,511.36 L639.46,513.20 L647.84,514.26 L656.22,516.40 L664.61,516.71 L672.99,518.32 L681.37,517.03 M388.00,506.05 L396.38,507.00 L404.76,508.98 L413.15,507.89 L421.53,507.05 L429.91,506.40 L438.29,502.01 L446.67,504.25 L455.06,504.51 L463.44,507.34 L471.82,504.86 L480.20,502.46 L488.58,499.56 L496.97,495.89 L505.35,485.57 L513.73,477.35 L522.11,463.02 L530.49,460.06 L538.88,466.86 L547.26,472.02 L555.64,472.99 L564.02,472.88 L572.40,475.97 L580.79,473.69 L589.17,473.15 L597.55,476.60 L605.93,480.30 L614.31,487.51 L622.70,492.74 L631.08,490.90 L639.46,494.32 L647.84,496.96 L656.22,500.01 L664.61,501.11 L672.99,499.28 L681.37,502.95 M388.00,493.58 L396.38,495.29 L404.76,501.26 L413.15,504.44 L421.53,501.45 L429.91,499.85 L438.29,497.14 L446.67,499.61 L455.06,500.44 L463.44,502.49 L471.82,502.29 L480.20,503.39 L488.58,499.29 L496.97,493.98 L505.35,482.58 L513.73,473.56 L522.11,474.58 L530.49,473.88 L538.88,472.45 L547.26,476.79 L555.64,486.34 L564.02,483.36 L572.40,486.61 L580.79,483.16 L589.17,487.60 L597.55,490.79 L605.93,491.71 L614.31,499.53 L622.70,498.64 L631.08,503.58 L639.46,504.91 L647.84,510.65 L656.22,511.85 L664.61,513.11 L672.99,510.22 L681.37,513.32 M388.00,498.51 L396.38,498.28 L404.76,498.48 L413.15,496.58 L421.53,496.27 L429.91,500.44 L438.29,494.25 L446.67,495.73 L455.06,492.59 L463.44,494.14 L471.82,490.93 L480.20,491.21 L488.58,485.91 L496.97,475.70 L505.35,466.45 L513.73,455.88 L522.11,454.60 L530.49,454.85 L538.88,456.20 L547.26,459.70 L555.64,464.70 L564.02,464.92 L572.40,467.05 L580.79,468.58 L589.17,476.01 L597.55,483.35 L605.93,486.12 L614.31,489.22 L622.70,490.80 L631.08,492.32 L639.46,494.14 L647.84,495.63 L656.22,500.56 L664.61,501.21 L672.99,500.14 L681.37,500.25 M388.00,515.86 L396.38,510.10 L404.76,516.99 L413.15,522.07 L421.53,520.58 L429.91,522.92 L438.29,518.60 L446.67,519.48 L455.06,523.30 L463.44,519.69 L471.82,516.20 L480.20,518.88 L488.58,518.88 L496.97,513.98 L505.35,505.12 L513.73,496.78 L522.11,490.41 L530.49,492.01 L538.88,490.16 L547.26,489.30 L555.64,492.21 L564.02,496.58 L572.40,495.38 L580.79,496.66 L589.17,500.78 L597.55,499.88 L605.93,502.04 L614.31,507.83 L622.70,509.41 L631.08,514.27 L639.46,515.08 L647.84,516.49 L656.22,519.07 L664.61,520.66 L672.99,520.19 L681.37,521.50 M388.00,501.54 L396.38,501.30 L404.76,502.12 L413.15,504.40 L421.53,503.86 L429.91,505.79 L438.29,504.65 L446.67,506.13 L455.06,507.31 L463.44,503.47 L471.82,503.24 L480.20,502.25 L488.58,501.20 L496.97,487.20 L505.35,476.93 L513.73,471.49 L522.11,465.78 L530.49,467.78 L538.88,472.70 L547.26,476.47 L555.64,475.02 L564.02,479.28 L572.40,478.55 L580.79,481.79 L589.17,482.43 L597.55,485.06 L605.93,489.05 L614.31,492.91 L622.70,494.49 L631.08,497.31 L639.46,502.77 L647.84,501.78 L656.22,507.62 L664.61,509.36 L672.99,509.07 L681.37,507.91 M388.00,512.29 L396.38,512.24 L404.76,509.54 L413.15,510.64 L421.53,510.91 L429.91,515.56 L438.29,512.98 L446.67,511.74 L455.06,514.18 L463.44,516.33 L471.82,511.23 L480.20,507.68 L488.58,510.02 L496.97,503.21 L505.35,486.00 L513.73,472.64 L522.11,473.42 L530.49,482.40 L538.88,479.50 L547.26,478.60 L555.64,475.97 L564.02,480.51 L572.40,482.35 L580.79,486.11 L589.17,491.03 L597.55,491.71 L605.93,496.25 L614.31,499.78 L622.70,499.77 L631.08,502.98 L639.46,509.46 L647.84,510.28 L656.22,509.59 L664.61,509.58 L672.99,508.61 L681.37,512.76 M388.00,494.89 L396.38,497.57 L404.76,498.55 L413.15,501.69 L421.53,502.31 L429.91,498.99 L438.29,498.72 L446.67,499.29 L455.06,495.30 L463.44,497.09 L471.82,494.86 L480.20,497.90 L488.58,498.54 L496.97,489.67 L505.35,479.47 L513.73,467.38 L522.11,463.04 L530.49,458.83 L538.88,467.34 L547.26,473.58 L555.64,472.96 L564.02,473.27 L572.40,471.74 L580.79,479.44 L589.17,480.50 L597.55,486.91 L605.93,489.43 L614.31,495.27 L622.70,497.76 L631.08,502.46 L639.46,500.48 L647.84,502.53 L656.22,506.18 L664.61,510.45 L672.99,507.03 L681.37,507.77 M388.00,506.60 L396.38,507.66 L404.76,508.16 L413.15,507.65 L421.53,507.35 L429.91,508.68 L438.29,511.84 L446.67,511.77 L455.06,507.39 L463.44,507.33 L471.82,504.57 L480.20,508.40 L488.58,499.77 L496.97,488.00 L505.35,468.74 L513.73,468.53 L522.11,470.60 L530.49,470.36 L538.88,469.37 L547.26,467.32 L555.64,478.82 L564.02,473.29 L572.40,481.55 L580.79,478.20 L589.17,480.52 L597.55,484.02 L605.93,493.50 L614.31,495.36 L622.70,492.07 L631.08,495.25 L639.46,496.60 L647.84,500.66 L656.22,501.60 L664.61,502.16 L672.99,504.43 L681.37,502.00 M388.00,507.26 L396.38,508.44 L404.76,509.35 L413.15,509.83 L421.53,507.97 L429.91,506.73 L438.29,506.15 L446.67,506.60 L455.06,509.54 L463.44,507.33 L471.82,508.27 L480.20,505.72 L488.58,501.24 L496.97,495.13 L505.35,479.58 L513.73,471.39 L522.11,466.27 L530.49,461.26 L538.88,467.81 L547.26,478.67 L555.64,482.75 L564.02,482.54 L572.40,479.86 L580.79,482.65 L589.17,483.12 L597.55,486.82 L605.93,491.37 L614.31,495.57 L622.70,494.04 L631.08,497.38 L639.46,504.99 L647.84,506.62 L656.22,505.32 L664.61,507.87 L672.99,504.94 L681.37,508.12 M388.00,507.56 L396.38,508.19 L404.76,509.19 L413.15,508.78 L421.53,507.87 L429.91,510.61 L438.29,509.85 L446.67,514.19 L455.06,512.28 L463.44,509.91 L471.82,510.33 L480.20,511.73 L488.58,508.01 L496.97,501.80 L505.35,492.37 L513.73,482.11 L522.11,470.80 L530.49,474.64 L538.88,474.54 L547.26,483.20 L555.64,483.07 L564.02,484.68 L572.40,480.27 L580.79,481.36 L589.17,483.11 L597.55,489.72 L605.93,492.39 L614.31,496.20 L622.70,502.59 L631.08,504.55 L639.46,505.13 L647.84,508.68 L656.22,512.94 L664.61,511.07 L672.99,512.66 L681.37,514.01 M388.00,507.80 L396.38,510.14 L404.76,512.00 L413.15,513.35 L421.53,509.35 L429.91,515.40 L438.29,515.21 L446.67,510.65 L455.06,509.59 L463.44,508.19 L471.82,509.12 L480.20,506.73 L488.58,506.25 L496.97,500.21 L505.35,486.69 L513.73,477.76 L522.11,472.15 L530.49,473.25 L538.88,477.49 L547.26,482.01 L555.64,476.98 L564.02,483.57 L572.40,482.37 L580.79,486.57 L589.17,487.96 L597.55,487.63 L605.93,488.71 L614.31,491.01 L622.70,497.01 L631.08,501.52 L639.46,501.17 L647.84,501.51 L656.22,507.25 L664.61,508.45 L672.99,505.03 L681.37,508.24 M388.00,507.76 L396.38,506.65 L404.76,510.01 L413.15,508.04 L421.53,510.05 L429.91,510.98 L438.29,509.80 L446.67,505.40 L455.06,505.34 L463.44,505.09 L471.82,502.36 L480.20,504.29 L488.58,498.19 L496.97,497.31 L505.35,476.35 L513.73,467.09 L522.11,465.48 L530.49,474.23 L538.88,471.24 L547.26,472.68 L555.64,472.99 L564.02,479.38 L572.40,473.27 L580.79,476.67 L589.17,479.49 L597.55,484.08 L605.93,483.26 L614.31,490.42 L622.70,492.71 L631.08,493.30 L639.46,492.27 L647.84,498.41 L656.22,503.09 L664.61,504.00 L672.99,503.95 L681.37,503.44 M388.00,534.50 L396.38,532.56 L404.76,531.93 L413.15,533.84 L421.53,529.79 L429.91,527.35 L438.29,535.89 L446.67,530.34 L455.06,527.80 L463.44,523.99 L471.82,523.98 L480.20,521.12 L488.58,519.08 L496.97,516.47 L505.35,507.02 L513.73,498.68 L522.11,493.20 L530.49,495.03 L538.88,498.55 L547.26,497.16 L555.64,495.44 L564.02,499.91 L572.40,502.24 L580.79,503.20 L589.17,501.92 L597.55,501.24 L605.93,504.12 L614.31,506.21 L622.70,509.14 L631.08,515.34 L639.46,513.18 L647.84,510.77 L656.22,517.54 L664.61,519.34 L672.99,516.16 L681.37,514.72 M388.00,493.95 L396.38,493.95 L404.76,496.16 L413.15,493.84 L421.53,501.07 L429.91,497.12 L438.29,500.43 L446.67,500.41 L455.06,498.14 L463.44,496.85 L471.82,494.78 L480.20,487.01 L488.58,484.26 L496.97,478.21 L505.35,468.06 L513.73,459.44 L522.11,462.78 L530.49,454.05 L538.88,462.37 L547.26,459.72 L555.64,470.29 L564.02,472.59 L572.40,472.81 L580.79,471.61 L589.17,475.31 L597.55,482.67 L605.93,487.69 L614.31,488.73 L622.70,489.70 L631.08,491.26 L639.46,498.72 L647.84,495.57 L656.22,499.26 L664.61,499.79 L672.99,500.50 L681.37,503.55 M388.00,507.79 L396.38,509.66 L404.76,514.34 L413.15,515.53 L421.53,514.04 L429.91,513.66 L438.29,511.35 L446.67,515.54 L455.06,515.25 L463.44,512.84 L471.82,512.32 L480.20,512.34 L488.58,513.66 L496.97,508.61 L505.35,499.26 L513.73,483.74 L522.11,479.05 L530.49,473.63 L538.88,475.40 L547.26,479.62 L555.64,482.32 L564.02,485.65 L572.40,488.49 L580.79,490.17 L589.17,485.98 L597.55,490.63 L605.93,490.51 L614.31,498.01 L622.70,500.31 L631.08,501.73 L639.46,502.89 L647.84,506.98 L656.22,511.93 L664.61,514.40 L672.99,514.18 L681.37,512.24 M388.00,507.95 L396.38,509.46 L404.76,515.26 L413.15,514.64 L421.53,511.62 L429.91,514.32 L438.29,512.13 L446.67,511.16 L455.06,517.73 L463.44,518.80 L471.82,515.37 L480.20,515.59 L488.58,510.03 L496.97,506.45 L505.35,500.85 L513.73,487.00 L522.11,476.77 L530.49,481.66 L538.88,481.23 L547.26,481.50 L555.64,477.84 L564.02,483.69 L572.40,482.00 L580.79,488.74 L589.17,490.82 L597.55,487.63 L605.93,491.27 L614.31,492.58 L622.70,496.20 L631.08,502.54 L639.46,506.78 L647.84,505.57 L656.22,508.02 L664.61,509.82 L672.99,512.63 L681.37,511.22 M388.00,520.94 L396.38,520.07 L404.76,523.50 L413.15,524.38 L421.53,513.38 L429.91,517.99 L438.29,519.45 L446.67,522.61 L455.06,518.62 L463.44,517.55 L471.82,516.12 L480.20,512.50 L488.58,512.28 L496.97,501.67 L505.35,499.04 L513.73,489.66 L522.11,479.73 L530.49,482.72 L538.88,479.36 L547.26,486.67 L555.64,486.58 L564.02,482.40 L572.40,486.64 L580.79,487.05 L589.17,484.12 L597.55,487.38 L605.93,493.36 L614.31,497.97 L622.70,497.38 L631.08,499.09 L639.46,501.64 L647.84,507.02 L656.22,511.57 L664.61,511.75 L672.99,514.24 L681.37,514.79 M388.00,499.31 L396.38,499.01 L404.76,504.84 L413.15,499.44 L421.53,500.91 L429.91,499.31 L438.29,496.65 L446.67,498.12 L455.06,494.67 L463.44,497.98 L471.82,500.12 L480.20,497.18 L488.58,496.85 L496.97,481.49 L505.35,480.32 L513.73,463.19 L522.11,459.91 L530.49,460.43 L538.88,464.92 L547.26,469.98 L555.64,471.80 L564.02,478.32 L572.40,478.49 L580.79,477.09 L589.17,481.10 L597.55,483.73 L605.93,485.66 L614.31,494.13 L622.70,495.29 L631.08,499.10 L639.46,498.10 L647.84,498.44 L656.22,502.06 L664.61,506.79 L672.99,506.68 L681.37,507.31 M388.00,506.80 L396.38,510.09 L404.76,507.34 L413.15,509.43 L421.53,508.18 L429.91,511.33 L438.29,515.54 L446.67,506.61 L455.06,509.76 L463.44,512.22 L471.82,514.39 L480.20,516.54 L488.58,506.45 L496.97,501.28 L505.35,491.41 L513.73,481.87 L522.11,475.02 L530.49,472.33 L538.88,479.32 L547.26,482.06 L555.64,488.43 L564.02,491.19 L572.40,489.26 L580.79,486.85 L589.17,482.79 L597.55,486.60 L605.93,491.54 L614.31,496.82 L622.70,498.02 L631.08,502.86 L639.46,507.54 L647.84,510.09 L656.22,511.53 L664.61,510.74 L672.99,510.60 L681.37,511.39 M388.00,522.27 L396.38,522.39 L404.76,519.07 L413.15,523.65 L421.53,521.93 L429.91,522.36 L438.29,522.65 L446.67,518.14 L455.06,517.56 L463.44,518.41 L471.82,517.38 L480.20,517.17 L488.58,511.55 L496.97,505.51 L505.35,493.57 L513.73,482.89 L522.11,476.32 L530.49,474.60 L538.88,481.69 L547.26,485.45 L555.64,486.65 L564.02,490.05 L572.40,489.05 L580.79,485.72 L589.17,489.73 L597.55,492.20 L605.93,494.62 L614.31,496.79 L622.70,500.66 L631.08,505.47 L639.46,506.12 L647.84,509.04 L656.22,512.17 L664.61,511.86 L672.99,511.00 L681.37,512.67 M388.00,503.26 L396.38,506.20 L404.76,505.94 L413.15,507.08 L421.53,506.73 L429.91,504.56 L438.29,503.23 L446.67,504.26 L455.06,501.61 L463.44,505.23 L471.82,501.37 L480.20,502.73 L488.58,501.91 L496.97,488.38 L505.35,477.39 L513.73,463.88 L522.11,459.72 L530.49,471.55 L538.88,467.10 L547.26,473.79 L555.64,472.32 L564.02,469.64 L572.40,474.95 L580.79,482.22 L589.17,480.60 L597.55,483.51 L605.93,484.64 L614.31,485.96 L622.70,492.12 L631.08,498.13 L639.46,501.37 L647.84,504.98 L656.22,508.00 L664.61,506.97 L672.99,505.35 L681.37,508.05 M388.00,495.45 L396.38,503.97 L404.76,502.96 L413.15,504.13 L421.53,505.42 L429.91,504.53 L438.29,506.67 L446.67,509.06 L455.06,506.71 L463.44,506.56 L471.82,504.64 L480.20,508.21 L488.58,507.08 L496.97,492.45 L505.35,484.20 L513.73,474.24 L522.11,475.67 L530.49,475.84 L538.88,478.25 L547.26,483.71 L555.64,482.75 L564.02,481.71 L572.40,483.86 L580.79,483.27 L589.17,485.49 L597.55,489.41 L605.93,494.14 L614.31,500.56 L622.70,501.54 L631.08,504.25 L639.46,504.38 L647.84,510.97 L656.22,514.24 L664.61,512.33 L672.99,515.19 L681.37,513.78 M388.00,513.55 L396.38,510.03 L404.76,510.38 L413.15,509.25 L421.53,513.11 L429.91,513.79 L438.29,514.65 L446.67,515.37 L455.06,510.60 L463.44,508.73 L471.82,505.00 L480.20,504.54 L488.58,509.77 L496.97,502.81 L505.35,489.15 L513.73,475.09 L522.11,475.71 L530.49,481.66 L538.88,481.96 L547.26,485.32 L555.64,484.83 L564.02,483.96 L572.40,482.79 L580.79,485.93 L589.17,487.43 L597.55,488.37 L605.93,494.96 L614.31,497.63 L622.70,497.78 L631.08,505.36 L639.46,505.44 L647.84,507.97 L656.22,510.37 L664.61,510.46 L672.99,506.49 L681.37,512.20 M388.00,516.76 L396.38,515.25 L404.76,513.04 L413.15,516.66 L421.53,518.64 L429.91,518.91 L438.29,521.16 L446.67,511.61 L455.06,513.78 L463.44,517.92 L471.82,515.94 L480.20,513.63 L488.58,513.97 L496.97,508.38 L505.35,497.01 L513.73,488.68 L522.11,482.87 L530.49,485.18 L538.88,487.75 L547.26,486.22 L555.64,491.82 L564.02,494.16 L572.40,492.74 L580.79,489.75 L589.17,493.09 L597.55,492.34 L605.93,500.58 L614.31,505.09 L622.70,502.30 L631.08,506.42 L639.46,510.17 L647.84,514.12 L656.22,515.75 L664.61,515.16 L672.99,515.61 L681.37,514.98 M388.00,510.28 L396.38,504.70 L404.76,508.86 L413.15,510.47 L421.53,510.06 L429.91,510.87 L438.29,506.00 L446.67,508.94 L455.06,508.29 L463.44,508.89 L471.82,505.07 L480.20,503.26 L488.58,505.91 L496.97,504.65 L505.35,490.93 L513.73,484.90 L522.11,476.86 L530.49,472.91 L538.88,475.92 L547.26,482.16 L555.64,477.29 L564.02,481.43 L572.40,487.14 L580.79,491.20 L589.17,491.49 L597.55,487.43 L605.93,492.65 L614.31,496.03 L622.70,499.55 L631.08,501.59 L639.46,506.39 L647.84,505.28 L656.22,510.71 L664.61,511.74 L672.99,511.20 L681.37,510.56 M388.00,511.87 L396.38,511.52 L404.76,506.83 L413.15,515.30 L421.53,511.39 L429.91,511.24 L438.29,514.53 L446.67,515.88 L455.06,514.61 L463.44,515.11 L471.82,512.22 L480.20,509.30 L488.58,507.50 L496.97,506.02 L505.35,495.88 L513.73,473.76 L522.11,475.50 L530.49,475.17 L538.88,469.50 L547.26,475.87 L555.64,477.19 L564.02,475.72 L572.40,473.24 L580.79,474.03 L589.17,479.67 L597.55,485.45 L605.93,487.07 L614.31,487.97 L622.70,490.14 L631.08,491.78 L639.46,491.53 L647.84,494.90 L656.22,498.78 L664.61,497.55 L672.99,496.47 L681.37,495.64 M388.00,519.17 L396.38,522.36 L404.76,522.50 L413.15,523.37 L421.53,524.52 L429.91,523.31 L438.29,518.24 L446.67,521.76 L455.06,521.65 L463.44,525.72 L471.82,520.80 L480.20,516.27 L488.58,517.50 L496.97,513.21 L505.35,505.38 L513.73,492.43 L522.11,487.76 L530.49,487.15 L538.88,484.92 L547.26,490.64 L555.64,493.95 L564.02,496.68 L572.40,496.22 L580.79,497.29 L589.17,493.30 L597.55,496.60 L605.93,500.49 L614.31,500.49 L622.70,503.32 L631.08,504.26 L639.46,508.30 L647.84,514.20 L656.22,513.07 L664.61,514.86 L672.99,517.60 L681.37,517.55 M388.00,491.03 L396.38,493.61 L404.76,492.14 L413.15,497.43 L421.53,492.63 L429.91,490.88 L438.29,490.41 L446.67,493.64 L455.06,493.45 L463.44,488.23 L471.82,493.67 L480.20,485.91 L488.58,488.13 L496.97,480.24 L505.35,469.15 L513.73,455.59 L522.11,445.84 L530.49,448.11 L538.88,448.20 L547.26,455.83 L555.64,456.38 L564.02,462.53 L572.40,461.71 L580.79,461.22 L589.17,463.31 L597.55,470.29 L605.93,476.21 L614.31,477.24 L622.70,481.69 L631.08,483.22 L639.46,485.37 L647.84,485.99 L656.22,489.92 L664.61,493.28 L672.99,491.70 L681.37,495.27 M388.00,528.99 L396.38,531.69 L404.76,530.59 L413.15,529.79 L421.53,528.02 L429.91,526.96 L438.29,529.19 L446.67,523.96 L455.06,515.89 L463.44,515.63 L471.82,515.75 L480.20,516.45 L488.58,517.09 L496.97,509.87 L505.35,499.34 L513.73,488.50 L522.11,476.46 L530.49,478.00 L538.88,481.78 L547.26,482.98 L555.64,480.10 L564.02,483.27 L572.40,482.58 L580.79,487.67 L589.17,491.48 L597.55,489.25 L605.93,492.20 L614.31,495.52 L622.70,502.15 L631.08,504.02 L639.46,502.60 L647.84,509.91 L656.22,511.97 L664.61,512.36 L672.99,513.50 L681.37,510.88 M388.00,516.89 L396.38,516.95 L404.76,517.13 L413.15,510.89 L421.53,514.39 L429.91,516.19 L438.29,511.35 L446.67,512.55 L455.06,507.98 L463.44,512.43 L471.82,516.68 L480.20,508.95 L488.58,510.99 L496.97,505.32 L505.35,496.30 L513.73,485.61 L522.11,476.18 L530.49,478.83 L538.88,477.28 L547.26,481.17 L555.64,481.48 L564.02,480.12 L572.40,484.08 L580.79,486.93 L589.17,481.32 L597.55,483.97 L605.93,490.79 L614.31,494.48 L622.70,498.16 L631.08,502.38 L639.46,506.68 L647.84,508.02 L656.22,512.25 L664.61,509.21 L672.99,507.98 L681.37,512.25 M388.00,512.92 L396.38,507.98 L404.76,509.76 L413.15,513.92 L421.53,513.40 L429.91,510.14 L438.29,510.69 L446.67,509.13 L455.06,516.77 L463.44,511.91 L471.82,509.66 L480.20,508.65 L488.58,507.98 L496.97,506.65 L505.35,499.37 L513.73,488.71 L522.11,482.52 L530.49,472.26 L538.88,477.80 L547.26,480.96 L555.64,491.21 L564.02,484.99 L572.40,486.45 L580.79,487.87 L589.17,487.97 L597.55,488.90 L605.93,492.26 L614.31,497.02 L622.70,498.33 L631.08,499.46 L639.46,501.39 L647.84,505.92 L656.22,506.71 L664.61,508.36 L672.99,508.30 L681.37,509.20" fill="none" stroke="#7cc95a" stroke-width="1.2" stroke-linejoin="round"/>
<path d="M388.00,673.02 L396.38,671.38 L404.76,671.48 L413.15,670.88 L421.53,670.84 L429.91,670.41 L438.29,671.82 L446.67,673.03 L455.06,671.50 L463.44,671.72 L471.82,672.24 L480.20,672.26 L488.58,672.19 L496.97,671.54 L505.35,659.63 L513.73,637.71 L522.11,619.96 L530.49,618.91 L538.88,616.75 L547.26,621.89 L555.64,622.80 L564.02,630.56 L572.40,629.08 L580.79,623.42 L589.17,631.66 L597.55,631.56 L605.93,639.79 L614.31,646.08 L622.70,644.75 L631.08,652.97 L639.46,657.19 L647.84,660.60 L656.22,667.15 L664.61,666.74 L672.99,665.94 L681.37,669.53 M388.00,670.14 L396.38,669.25 L404.76,670.09 L413.15,668.76 L421.53,668.93 L429.91,671.96 L438.29,672.98 L446.67,672.80 L455.06,673.42 L463.44,672.56 L471.82,672.17 L480.20,673.22 L488.58,671.44 L496.97,663.27 L505.35,642.57 L513.73,620.85 L522.11,619.50 L530.49,618.31 L538.88,622.88 L547.26,627.92 L555.64,622.97 L564.02,622.64 L572.40,629.44 L580.79,630.47 L589.17,636.45 L597.55,642.36 L605.93,646.26 L614.31,649.48 L622.70,655.95 L631.08,660.74 L639.46,664.66 L647.84,669.13 L656.22,673.49 L664.61,673.18 L672.99,675.41 L681.37,673.55 M388.00,672.37 L396.38,671.98 L404.76,673.45 L413.15,674.14 L421.53,672.06 L429.91,672.61 L438.29,673.39 L446.67,673.41 L455.06,675.42 L463.44,673.91 L471.82,673.93 L480.20,673.77 L488.58,673.20 L496.97,667.01 L505.35,645.90 L513.73,627.33 L522.11,624.18 L530.49,612.53 L538.88,624.41 L547.26,625.12 L555.64,626.79 L564.02,631.31 L572.40,632.63 L580.79,632.68 L589.17,636.91 L597.55,639.18 L605.93,642.79 L614.31,651.63 L622.70,653.84 L631.08,656.96 L639.46,660.65 L647.84,663.26 L656.22,665.79 L664.61,667.88 L672.99,669.73 L681.37,669.19 M388.00,675.42 L396.38,674.35 L404.76,674.42 L413.15,676.09 L421.53,674.76 L429.91,676.09 L438.29,675.69 L446.67,678.10 L455.06,676.05 L463.44,676.76 L471.82,677.50 L480.20,677.84 L488.58,678.42 L496.97,672.84 L505.35,659.68 L513.73,639.48 L522.11,637.60 L530.49,639.63 L538.88,635.66 L547.26,639.67 L555.64,646.38 L564.02,650.46 L572.40,654.96 L580.79,651.82 L589.17,658.12 L597.55,653.16 L605.93,662.05 L614.31,663.22 L622.70,663.49 L631.08,669.41 L639.46,671.44 L647.84,670.64 L656.22,674.90 L664.61,675.00 L672.99,675.87 L681.37,679.11 M388.00,673.93 L396.38,673.39 L404.76,673.29 L413.15,672.61 L421.53,673.72 L429.91,674.35 L438.29,674.70 L446.67,673.64 L455.06,674.99 L463.44,674.31 L471.82,675.78 L480.20,676.54 L488.58,675.57 L496.97,672.96 L505.35,660.05 L513.73,644.88 L522.11,628.86 L530.49,625.39 L538.88,623.11 L547.26,630.16 L555.64,638.04 L564.02,642.86 L572.40,637.98 L580.79,647.28 L589.17,649.24 L597.55,653.25 L605.93,651.74 L614.31,658.36 L622.70,660.77 L631.08,663.29 L639.46,664.16 L647.84,669.09 L656.22,676.37 L664.61,678.90 L672.99,678.23 L681.37,677.12 M388.00,671.36 L396.38,672.28 L404.76,672.00 L413.15,671.03 L421.53,671.31 L429.91,671.73 L438.29,671.70 L446.67,672.99 L455.06,673.85 L463.44,675.36 L471.82,674.84 L480.20,673.30 L488.58,673.62 L496.97,667.69 L505.35,649.17 L513.73,628.19 L522.11,619.68 L530.49,622.23 L538.88,624.79 L547.26,623.05 L555.64,631.59 L564.02,629.60 L572.40,633.65 L580.79,634.30 L589.17,633.14 L597.55,636.77 L605.93,641.75 L614.31,650.60 L622.70,654.53 L631.08,659.99 L639.46,664.40 L647.84,666.31 L656.22,667.65 L664.61,669.15 L672.99,670.73 L681.37,673.55 M388.00,683.67 L396.38,682.44 L404.76,684.36 L413.15,683.87 L421.53,684.37 L429.91,681.77 L438.29,682.76 L446.67,682.18 L455.06,682.74 L463.44,684.31 L471.82,684.87 L480.20,684.35 L488.58,684.72 L496.97,681.37 L505.35,679.49 L513.73,676.42 L522.11,679.79 L530.49,666.96 L538.88,675.24 L547.26,674.47 L555.64,677.07 L564.02,674.69 L572.40,670.61 L580.79,671.20 L589.17,680.18 L597.55,677.92 L605.93,676.47 L614.31,676.54 L622.70,681.32 L631.08,683.46 L639.46,685.02 L647.84,681.30 L656.22,683.38 L664.61,684.26 L672.99,684.96 L681.37,684.57 M388.00,677.05 L396.38,678.27 L404.76,679.45 L413.15,678.02 L421.53,679.02 L429.91,677.00 L438.29,677.53 L446.67,678.62 L455.06,677.37 L463.44,679.40 L471.82,678.56 L480.20,678.09 L488.58,676.35 L496.97,671.77 L505.35,658.05 L513.73,644.53 L522.11,638.25 L530.49,640.36 L538.88,647.88 L547.26,644.54 L555.64,651.35 L564.02,650.06 L572.40,649.78 L580.79,640.76 L589.17,647.72 L597.55,656.30 L605.93,659.55 L614.31,660.10 L622.70,664.92 L631.08,664.62 L639.46,668.97 L647.84,670.10 L656.22,672.33 L664.61,675.40 L672.99,675.71 L681.37,677.23 M388.00,670.13 L396.38,669.38 L404.76,669.91 L413.15,669.42 L421.53,670.62 L429.91,671.45 L438.29,670.74 L446.67,672.03 L455.06,673.03 L463.44,673.31 L471.82,672.74 L480.20,671.86 L488.58,670.80 L496.97,661.07 L505.35,638.52 L513.73,619.58 L522.11,611.99 L530.49,612.52 L538.88,606.80 L547.26,611.83 L555.64,612.98 L564.02,619.57 L572.40,622.99 L580.79,629.39 L589.17,630.49 L597.55,636.90 L605.93,642.47 L614.31,646.58 L622.70,653.58 L631.08,658.75 L639.46,661.40 L647.84,659.95 L656.22,662.25 L664.61,661.59 L672.99,664.05 L681.37,667.71 M388.00,683.36 L396.38,685.02 L404.76,684.43 L413.15,684.14 L421.53,682.78 L429.91,682.51 L438.29,684.31 L446.67,684.53 L455.06,683.45 L463.44,683.26 L471.82,683.63 L480.20,683.67 L488.58,681.89 L496.97,677.90 L505.35,675.84 L513.73,673.98 L522.11,671.78 L530.49,674.15 L538.88,674.13 L547.26,666.85 L555.64,666.49 L564.02,671.25 L572.40,672.05 L580.79,668.31 L589.17,674.61 L597.55,678.74 L605.93,676.46 L614.31,678.10 L622.70,682.76 L631.08,681.65 L639.46,683.18 L647.84,683.21 L656.22,681.05 L664.61,682.80 L672.99,684.04 L681.37,685.17 M388.00,668.97 L396.38,668.36 L404.76,666.97 L413.15,666.89 L421.53,666.26 L429.91,666.16 L438.29,669.70 L446.67,670.27 L455.06,671.75 L463.44,670.97 L471.82,671.32 L480.20,671.10 L488.58,671.35 L496.97,671.33 L505.35,665.23 L513.73,639.58 L522.11,612.85 L530.49,609.15 L538.88,613.57 L547.26,618.13 L555.64,611.69 L564.02,610.51 L572.40,616.63 L580.79,618.18 L589.17,617.25 L597.55,622.13 L605.93,625.62 L614.31,632.47 L622.70,641.74 L631.08,648.68 L639.46,650.14 L647.84,654.00 L656.22,655.21 L664.61,659.44 L672.99,660.84 L681.37,664.29 M388.00,681.87 L396.38,683.55 L404.76,683.31 L413.15,683.11 L421.53,680.93 L429.91,682.08 L438.29,680.84 L446.67,682.65 L455.06,680.51 L463.44,682.79 L471.82,682.41 L480.20,680.24 L488.58,678.43 L496.97,674.43 L505.35,666.41 L513.73,657.17 L522.11,661.54 L530.49,656.90 L538.88,651.35 L547.26,651.36 L555.64,664.57 L564.02,660.03 L572.40,662.49 L580.79,665.71 L589.17,667.65 L597.55,669.64 L605.93,673.44 L614.31,669.65 L622.70,676.91 L631.08,676.94 L639.46,678.30 L647.84,676.55 L656.22,679.06 L664.61,679.49 L672.99,681.27 L681.37,681.17 M388.00,671.21 L396.38,670.33 L404.76,670.57 L413.15,670.40 L421.53,670.73 L429.91,671.26 L438.29,674.56 L446.67,673.31 L455.06,674.78 L463.44,675.53 L471.82,675.04 L480.20,674.63 L488.58,673.05 L496.97,667.66 L505.35,647.02 L513.73,634.05 L522.11,627.39 L530.49,633.55 L538.88,632.43 L547.26,636.65 L555.64,637.03 L564.02,640.00 L572.40,642.10 L580.79,645.95 L589.17,647.04 L597.55,651.10 L605.93,659.37 L614.31,665.75 L622.70,667.12 L631.08,670.29 L639.46,671.84 L647.84,673.05 L656.22,674.74 L664.61,678.23 L672.99,679.10 L681.37,680.40 M388.00,679.36 L396.38,678.33 L404.76,678.07 L413.15,677.09 L421.53,676.66 L429.91,679.00 L438.29,678.83 L446.67,679.09 L455.06,678.68 L463.44,677.57 L471.82,677.36 L480.20,677.80 L488.58,676.81 L496.97,674.13 L505.35,663.15 L513.73,650.88 L522.11,638.00 L530.49,633.23 L538.88,632.17 L547.26,633.61 L555.64,632.75 L564.02,641.08 L572.40,637.85 L580.79,635.13 L589.17,638.33 L597.55,645.56 L605.93,651.80 L614.31,652.75 L622.70,654.00 L631.08,660.12 L639.46,662.57 L647.84,663.71 L656.22,664.30 L664.61,668.92 L672.99,668.32 L681.37,670.12 M388.00,667.31 L396.38,666.15 L404.76,667.10 L413.15,668.13 L421.53,667.85 L429.91,669.48 L438.29,670.56 L446.67,671.44 L455.06,671.47 L463.44,670.73 L471.82,671.01 L480.20,671.34 L488.58,668.14 L496.97,653.58 L505.35,628.35 L513.73,605.41 L522.11,603.71 L530.49,606.22 L538.88,607.83 L547.26,607.82 L555.64,609.89 L564.02,614.91 L572.40,618.62 L580.79,623.73 L589.17,622.08 L597.55,629.51 L605.93,635.56 L614.31,643.50 L622.70,647.40 L631.08,654.61 L639.46,658.82 L647.84,657.57 L656.22,660.02 L664.61,663.78 L672.99,668.60 L681.37,666.83 M388.00,684.19 L396.38,683.64 L404.76,685.27 L413.15,685.60 L421.53,685.13 L429.91,684.12 L438.29,683.62 L446.67,682.46 L455.06,682.83 L463.44,683.77 L471.82,683.24 L480.20,683.30 L488.58,683.44 L496.97,682.15 L505.35,677.75 L513.73,673.11 L522.11,680.26 L530.49,669.29 L538.88,668.99 L547.26,670.00 L555.64,670.40 L564.02,671.11 L572.40,674.99 L580.79,669.49 L589.17,672.62 L597.55,671.51 L605.93,676.97 L614.31,679.35 L622.70,679.20 L631.08,679.43 L639.46,677.35 L647.84,682.62 L656.22,683.86 L664.61,683.39 L672.99,683.68 L681.37,682.10 M388.00,671.50 L396.38,671.99 L404.76,671.28 L413.15,672.03 L421.53,670.88 L429.91,669.63 L438.29,672.01 L446.67,672.03 L455.06,671.64 L463.44,671.95 L471.82,672.17 L480.20,671.92 L488.58,667.58 L496.97,651.65 L505.35,629.08 L513.73,613.95 L522.11,611.90 L530.49,603.25 L538.88,606.60 L547.26,610.24 L555.64,610.01 L564.02,614.25 L572.40,613.63 L580.79,625.25 L589.17,628.80 L597.55,629.63 L605.93,634.37 L614.31,640.16 L622.70,645.23 L631.08,648.93 L639.46,652.93 L647.84,656.37 L656.22,657.66 L664.61,661.03 L672.99,662.83 L681.37,660.52 M388.00,667.97 L396.38,668.33 L404.76,667.18 L413.15,666.83 L421.53,668.07 L429.91,669.11 L438.29,669.79 L446.67,672.87 L455.06,672.73 L463.44,673.56 L471.82,673.63 L480.20,673.02 L488.58,672.90 L496.97,669.23 L505.35,650.85 L513.73,631.25 L522.11,617.77 L530.49,618.55 L538.88,623.40 L547.26,624.59 L555.64,623.78 L564.02,631.65 L572.40,635.07 L580.79,634.97 L589.17,640.85 L597.55,641.09 L605.93,650.31 L614.31,653.34 L622.70,659.04 L631.08,662.55 L639.46,668.54 L647.84,670.14 L656.22,672.92 L664.61,674.95 L672.99,676.96 L681.37,676.69 M388.00,677.10 L396.38,676.88 L404.76,676.67 L413.15,676.60 L421.53,675.91 L429.91,677.28 L438.29,678.08 L446.67,678.48 L455.06,676.95 L463.44,678.34 L471.82,679.54 L480.20,679.33 L488.58,679.25 L496.97,677.52 L505.35,666.19 L513.73,652.09 L522.11,648.31 L530.49,641.27 L538.88,643.67 L547.26,642.21 L555.64,638.36 L564.02,645.99 L572.40,651.34 L580.79,648.90 L589.17,651.59 L597.55,657.37 L605.93,660.02 L614.31,663.35 L622.70,665.17 L631.08,667.47 L639.46,670.52 L647.84,672.50 L656.22,679.50 L664.61,680.00 L672.99,677.97 L681.37,679.04 M388.00,677.43 L396.38,676.56 L404.76,677.09 L413.15,675.25 L421.53,678.04 L429.91,678.59 L438.29,676.56 L446.67,675.59 L455.06,675.83 L463.44,676.47 L471.82,677.22 L480.20,677.48 L488.58,674.04 L496.97,664.25 L505.35,647.47 L513.73,629.12 L522.11,630.36 L530.49,629.37 L538.88,626.15 L547.26,635.72 L555.64,635.28 L564.02,641.70 L572.40,645.18 L580.79,633.34 L589.17,640.02 L597.55,643.97 L605.93,652.97 L614.31,654.53 L622.70,657.47 L631.08,662.53 L639.46,663.36 L647.84,666.39 L656.22,668.41 L664.61,669.38 L672.99,670.74 L681.37,674.20 M388.00,676.51 L396.38,678.48 L404.76,678.35 L413.15,681.03 L421.53,678.61 L429.91,678.08 L438.29,679.40 L446.67,678.95 L455.06,677.95 L463.44,679.40 L471.82,680.54 L480.20,680.41 L488.58,677.79 L496.97,671.72 L505.35,662.94 L513.73,658.03 L522.11,649.94 L530.49,657.88 L538.88,657.22 L547.26,659.90 L555.64,655.98 L564.02,656.26 L572.40,664.09 L580.79,658.66 L589.17,658.30 L597.55,663.75 L605.93,668.21 L614.31,671.32 L622.70,673.29 L631.08,675.17 L639.46,679.93 L647.84,676.27 L656.22,679.20 L664.61,681.06 L672.99,681.55 L681.37,681.42 M388.00,676.99 L396.38,676.89 L404.76,675.60 L413.15,677.65 L421.53,678.47 L429.91,678.58 L438.29,677.70 L446.67,677.47 L455.06,679.18 L463.44,678.93 L471.82,677.25 L480.20,677.49 L488.58,677.65 L496.97,674.86 L505.35,668.54 L513.73,653.86 L522.11,652.91 L530.49,657.68 L538.88,639.97 L547.26,642.48 L555.64,646.05 L564.02,649.82 L572.40,655.59 L580.79,661.71 L589.17,658.09 L597.55,655.94 L605.93,660.93 L614.31,668.85 L622.70,673.16 L631.08,675.29 L639.46,676.38 L647.84,677.80 L656.22,678.33 L664.61,680.12 L672.99,680.46 L681.37,680.77 M388.00,674.82 L396.38,674.29 L404.76,676.12 L413.15,675.82 L421.53,673.90 L429.91,674.99 L438.29,675.63 L446.67,676.69 L455.06,675.80 L463.44,675.02 L471.82,674.41 L480.20,673.86 L488.58,672.59 L496.97,666.04 L505.35,645.32 L513.73,622.67 L522.11,615.44 L530.49,611.65 L538.88,608.76 L547.26,611.34 L555.64,610.76 L564.02,615.01 L572.40,615.56 L580.79,622.77 L589.17,619.62 L597.55,625.86 L605.93,633.72 L614.31,644.07 L622.70,645.30 L631.08,648.98 L639.46,652.51 L647.84,655.98 L656.22,656.99 L664.61,658.77 L672.99,658.36 L681.37,659.51 M388.00,680.02 L396.38,679.64 L404.76,679.44 L413.15,678.77 L421.53,679.51 L429.91,679.82 L438.29,678.79 L446.67,679.78 L455.06,679.55 L463.44,678.98 L471.82,678.04 L480.20,677.67 L488.58,677.41 L496.97,671.63 L505.35,665.72 L513.73,647.98 L522.11,645.94 L530.49,642.56 L538.88,646.49 L547.26,649.69 L555.64,649.84 L564.02,649.44 L572.40,644.26 L580.79,644.71 L589.17,648.41 L597.55,647.16 L605.93,653.29 L614.31,654.28 L622.70,657.91 L631.08,663.85 L639.46,670.08 L647.84,670.47 L656.22,674.46 L664.61,673.36 L672.99,675.04 L681.37,673.48 M388.00,674.82 L396.38,674.17 L404.76,675.45 L413.15,674.25 L421.53,674.42 L429.91,675.34 L438.29,676.81 L446.67,677.34 L455.06,676.80 L463.44,676.03 L471.82,676.68 L480.20,676.77 L488.58,678.04 L496.97,675.28 L505.35,664.61 L513.73,650.26 L522.11,639.84 L530.49,635.18 L538.88,635.96 L547.26,640.40 L555.64,649.72 L564.02,649.62 L572.40,648.60 L580.79,654.50 L589.17,655.97 L597.55,654.28 L605.93,659.32 L614.31,661.45 L622.70,669.24 L631.08,674.48 L639.46,672.43 L647.84,673.33 L656.22,676.19 L664.61,678.54 L672.99,680.24 L681.37,679.79 M388.00,685.60 L396.38,685.20 L404.76,683.89 L413.15,684.26 L421.53,686.31 L429.91,684.49 L438.29,683.72 L446.67,683.44 L455.06,684.94 L463.44,685.05 L471.82,685.06 L480.20,684.06 L488.58,683.49 L496.97,681.66 L505.35,680.71 L513.73,673.36 L522.11,667.38 L530.49,662.59 L538.88,663.56 L547.26,668.63 L555.64,669.34 L564.02,670.41 L572.40,668.93 L580.79,669.28 L589.17,673.04 L597.55,670.35 L605.93,670.71 L614.31,676.88 L622.70,679.02 L631.08,676.20 L639.46,678.38 L647.84,679.87 L656.22,681.88 L664.61,682.09 L672.99,681.65 L681.37,683.96 M388.00,681.52 L396.38,682.48 L404.76,683.29 L413.15,683.98 L421.53,680.77 L429.91,680.82 L438.29,682.10 L446.67,680.78 L455.06,680.74 L463.44,681.38 L471.82,680.04 L480.20,680.66 L488.58,677.14 L496.97,670.03 L505.35,657.67 L513.73,651.43 L522.11,656.72 L530.49,654.25 L538.88,655.07 L547.26,651.78 L555.64,647.51 L564.02,650.48 L572.40,649.76 L580.79,653.60 L589.17,655.05 L597.55,658.29 L605.93,658.39 L614.31,668.30 L622.70,667.31 L631.08,668.64 L639.46,669.77 L647.84,671.45 L656.22,674.37 L664.61,675.80 L672.99,677.65 L681.37,674.99 M388.00,674.40 L396.38,675.14 L404.76,674.10 L413.15,675.00 L421.53,675.06 L429.91,676.96 L438.29,677.74 L446.67,675.71 L455.06,677.49 L463.44,676.44 L471.82,675.84 L480.20,675.69 L488.58,674.58 L496.97,670.91 L505.35,655.54 L513.73,642.67 L522.11,640.71 L530.49,643.68 L538.88,640.94 L547.26,636.81 L555.64,643.66 L564.02,646.59 L572.40,641.20 L580.79,648.37 L589.17,646.81 L597.55,655.49 L605.93,661.39 L614.31,663.05 L622.70,665.31 L631.08,668.25 L639.46,672.63 L647.84,673.08 L656.22,674.00 L664.61,677.58 L672.99,677.34 L681.37,678.30 M388.00,666.47 L396.38,665.95 L404.76,664.57 L413.15,664.82 L421.53,665.33 L429.91,667.11 L438.29,668.33 L446.67,668.58 L455.06,669.68 L463.44,669.43 L471.82,670.08 L480.20,669.69 L488.58,669.60 L496.97,661.41 L505.35,631.24 L513.73,607.72 L522.11,604.86 L530.49,596.44 L538.88,599.30 L547.26,602.95 L555.64,598.94 L564.02,605.30 L572.40,610.79 L580.79,612.25 L589.17,619.01 L597.55,629.14 L605.93,633.16 L614.31,639.34 L622.70,643.56 L631.08,646.64 L639.46,651.83 L647.84,656.10 L656.22,659.58 L664.61,662.65 L672.99,663.28 L681.37,665.38 M388.00,680.34 L396.38,679.64 L404.76,682.23 L413.15,681.59 L421.53,681.84 L429.91,681.03 L438.29,681.32 L446.67,680.77 L455.06,679.07 L463.44,679.76 L471.82,680.41 L480.20,678.48 L488.58,678.74 L496.97,676.92 L505.35,669.29 L513.73,661.06 L522.11,649.07 L530.49,645.07 L538.88,647.25 L547.26,642.55 L555.64,646.99 L564.02,649.46 L572.40,646.69 L580.79,640.94 L589.17,650.68 L597.55,653.52 L605.93,667.13 L614.31,663.16 L622.70,664.46 L631.08,668.65 L639.46,670.32 L647.84,671.77 L656.22,674.07 L664.61,675.32 L672.99,677.73 L681.37,676.62 M388.00,673.44 L396.38,672.33 L404.76,673.27 L413.15,673.30 L421.53,673.29 L429.91,671.08 L438.29,671.74 L446.67,673.41 L455.06,674.42 L463.44,674.05 L471.82,674.40 L480.20,674.16 L488.58,674.93 L496.97,670.83 L505.35,654.12 L513.73,636.05 L522.11,626.37 L530.49,623.32 L538.88,625.13 L547.26,631.29 L555.64,630.18 L564.02,629.73 L572.40,630.93 L580.79,633.05 L589.17,635.89 L597.55,637.08 L605.93,643.93 L614.31,647.04 L622.70,657.70 L631.08,657.64 L639.46,661.57 L647.84,663.48 L656.22,668.42 L664.61,667.46 L672.99,671.88 L681.37,671.84 M388.00,670.68 L396.38,671.89 L404.76,672.47 L413.15,672.90 L421.53,671.12 L429.91,671.56 L438.29,671.78 L446.67,672.56 L455.06,671.61 L463.44,672.78 L471.82,673.16 L480.20,672.20 L488.58,668.04 L496.97,650.24 L505.35,624.31 L513.73,615.73 L522.11,608.81 L530.49,609.94 L538.88,608.32 L547.26,609.40 L555.64,603.54 L564.02,610.72 L572.40,615.07 L580.79,621.18 L589.17,624.06 L597.55,629.20 L605.93,635.33 L614.31,638.44 L622.70,646.21 L631.08,649.21 L639.46,652.12 L647.84,652.48 L656.22,657.31 L664.61,657.28 L672.99,659.93 L681.37,662.75 M388.00,667.43 L396.38,666.72 L404.76,666.57 L413.15,665.96 L421.53,666.57 L429.91,667.93 L438.29,668.71 L446.67,668.83 L455.06,671.21 L463.44,671.48 L471.82,670.52 L480.20,670.50 L488.58,670.53 L496.97,664.30 L505.35,638.17 L513.73,610.84 L522.11,600.89 L530.49,602.38 L538.88,602.51 L547.26,600.59 L555.64,605.43 L564.02,609.21 L572.40,616.55 L580.79,617.24 L589.17,623.44 L597.55,626.22 L605.93,630.15 L614.31,632.69 L622.70,639.32 L631.08,643.21 L639.46,649.16 L647.84,652.00 L656.22,657.85 L664.61,659.07 L672.99,665.21 L681.37,665.12 M388.00,673.55 L396.38,675.15 L404.76,676.32 L413.15,675.50 L421.53,675.11 L429.91,674.62 L438.29,674.86 L446.67,676.58 L455.06,676.58 L463.44,675.91 L471.82,675.36 L480.20,675.26 L488.58,673.08 L496.97,667.18 L505.35,646.07 L513.73,641.64 L522.11,634.40 L530.49,628.28 L538.88,627.40 L547.26,637.25 L555.64,637.10 L564.02,642.76 L572.40,641.60 L580.79,641.44 L589.17,644.76 L597.55,646.50 L605.93,655.44 L614.31,658.41 L622.70,662.83 L631.08,664.33 L639.46,666.83 L647.84,669.23 L656.22,672.79 L664.61,674.86 L672.99,674.90 L681.37,675.14 M388.00,673.94 L396.38,673.47 L404.76,673.13 L413.15,674.75 L421.53,675.45 L429.91,675.17 L438.29,675.45 L446.67,676.41 L455.06,675.65 L463.44,676.39 L471.82,676.29 L480.20,674.19 L488.58,670.35 L496.97,657.70 L505.35,641.05 L513.73,631.24 L522.11,623.98 L530.49,625.14 L538.88,626.05 L547.26,628.87 L555.64,637.64 L564.02,637.35 L572.40,636.38 L580.79,642.59 L589.17,640.85 L597.55,645.15 L605.93,648.64 L614.31,654.22 L622.70,658.93 L631.08,664.84 L639.46,667.73 L647.84,669.20 L656.22,670.02 L664.61,668.45 L672.99,669.46 L681.37,673.27 M388.00,670.18 L396.38,670.23 L404.76,668.61 L413.15,667.43 L421.53,669.53 L429.91,669.33 L438.29,670.71 L446.67,670.18 L455.06,671.70 L463.44,672.34 L471.82,672.43 L480.20,672.02 L488.58,671.53 L496.97,666.48 L505.35,643.38 L513.73,623.37 L522.11,611.31 L530.49,614.24 L538.88,614.59 L547.26,618.45 L555.64,622.15 L564.02,625.84 L572.40,628.61 L580.79,625.27 L589.17,636.84 L597.55,635.34 L605.93,644.56 L614.31,646.68 L622.70,653.57 L631.08,656.90 L639.46,660.10 L647.84,665.10 L656.22,664.72 L664.61,667.90 L672.99,669.03 L681.37,667.25 M388.00,667.38 L396.38,668.40 L404.76,666.69 L413.15,668.42 L421.53,667.39 L429.91,669.73 L438.29,669.70 L446.67,669.40 L455.06,669.35 L463.44,671.58 L471.82,671.21 L480.20,673.59 L488.58,673.44 L496.97,668.47 L505.35,652.25 L513.73,629.97 L522.11,620.23 L530.49,615.41 L538.88,612.94 L547.26,611.31 L555.64,617.64 L564.02,621.20 L572.40,623.35 L580.79,630.03 L589.17,629.65 L597.55,637.15 L605.93,638.51 L614.31,647.44 L622.70,653.09 L631.08,657.67 L639.46,662.00 L647.84,664.00 L656.22,668.30 L664.61,671.58 L672.99,674.02 L681.37,675.06 M388.00,673.97 L396.38,674.64 L404.76,675.22 L413.15,676.84 L421.53,675.40 L429.91,678.82 L438.29,676.91 L446.67,676.58 L455.06,676.89 L463.44,676.30 L471.82,677.07 L480.20,676.47 L488.58,673.53 L496.97,662.89 L505.35,646.54 L513.73,630.38 L522.11,628.69 L530.49,627.71 L538.88,635.94 L547.26,636.98 L555.64,640.81 L564.02,643.21 L572.40,645.89 L580.79,643.56 L589.17,641.71 L597.55,646.50 L605.93,649.90 L614.31,656.51 L622.70,663.10 L631.08,666.75 L639.46,669.43 L647.84,673.50 L656.22,675.53 L664.61,674.67 L672.99,674.89 L681.37,672.59 M388.00,678.51 L396.38,679.11 L404.76,678.63 L413.15,681.17 L421.53,680.95 L429.91,678.71 L438.29,679.65 L446.67,679.90 L455.06,680.85 L463.44,682.43 L471.82,680.49 L480.20,682.44 L488.58,679.40 L496.97,678.67 L505.35,667.21 L513.73,662.36 L522.11,655.78 L530.49,661.84 L538.88,665.27 L547.26,658.58 L555.64,658.15 L564.02,660.39 L572.40,661.18 L580.79,665.39 L589.17,660.43 L597.55,666.63 L605.93,672.41 L614.31,673.45 L622.70,675.89 L631.08,678.62 L639.46,681.82 L647.84,678.22 L656.22,680.59 L664.61,678.79 L672.99,681.30 L681.37,682.21 M388.00,677.72 L396.38,677.69 L404.76,677.79 L413.15,677.69 L421.53,676.10 L429.91,677.78 L438.29,677.32 L446.67,674.44 L455.06,676.24 L463.44,675.99 L471.82,676.68 L480.20,676.26 L488.58,675.90 L496.97,670.38 L505.35,655.33 L513.73,638.77 L522.11,631.37 L530.49,629.21 L538.88,631.88 L547.26,624.57 L555.64,631.87 L564.02,636.83 L572.40,633.49 L580.79,639.39 L589.17,636.02 L597.55,635.34 L605.93,640.20 L614.31,643.52 L622.70,647.26 L631.08,650.04 L639.46,653.46 L647.84,655.28 L656.22,659.42 L664.61,662.71 L672.99,664.02 L681.37,665.55 M388.00,680.39 L396.38,679.95 L404.76,678.40 L413.15,678.73 L421.53,679.03 L429.91,678.32 L438.29,677.80 L446.67,677.94 L455.06,677.37 L463.44,677.40 L471.82,677.15 L480.20,676.89 L488.58,676.37 L496.97,667.68 L505.35,654.18 L513.73,639.97 L522.11,631.45 L530.49,628.11 L538.88,621.59 L547.26,633.73 L555.64,629.40 L564.02,630.30 L572.40,633.26 L580.79,632.04 L589.17,636.79 L597.55,638.89 L605.93,644.25 L614.31,644.73 L622.70,650.84 L631.08,655.05 L639.46,656.94 L647.84,660.36 L656.22,661.65 L664.61,662.34 L672.99,662.74 L681.37,664.27 M388.00,667.61 L396.38,665.77 L404.76,666.66 L413.15,667.62 L421.53,666.70 L429.91,667.15 L438.29,669.96 L446.67,669.53 L455.06,669.28 L463.44,669.75 L471.82,668.86 L480.20,670.53 L488.58,671.45 L496.97,667.69 L505.35,649.82 L513.73,622.01 L522.11,611.56 L530.49,611.51 L538.88,607.61 L547.26,608.60 L555.64,606.33 L564.02,611.59 L572.40,616.92 L580.79,617.99 L589.17,621.11 L597.55,624.09 L605.93,629.11 L614.31,640.25 L622.70,644.51 L631.08,650.30 L639.46,655.17 L647.84,656.76 L656.22,661.64 L664.61,665.44 L672.99,663.39 L681.37,663.98" fill="none" stroke="#7cc95a" stroke-width="1.2" stroke-linejoin="round"/>
<path d="M63.30,101.19 L71.71,101.50 L80.11,101.81 L88.52,102.43 L96.93,85.02 L105.34,67.61 L113.75,60.34 L122.15,55.47 L130.56,56.15 L138.97,57.13 L147.38,59.99 L155.78,62.86 L164.19,65.73 L172.60,67.85 L181.00,68.70 L189.41,71.11 L197.82,73.51 L206.23,75.55 L214.63,76.10 L223.04,76.64 L231.45,77.19 L239.86,77.74 L248.26,78.29 L256.67,78.69 L265.08,79.09 L273.49,79.49 L281.89,79.90" fill="none" stroke="#2a7424" stroke-width="3.9" stroke-linejoin="round"/>
<path d="M63.30,197.12 L71.71,197.12 L80.11,197.12 L88.52,201.96 L96.93,211.53 L105.34,223.34 L113.75,230.92 L122.15,230.92 L130.56,230.92 L138.97,230.92 L147.38,233.01 L155.78,231.91 L164.19,230.57 L172.60,229.68 L181.00,229.24 L189.41,227.02 L197.82,226.25 L206.23,225.85 L214.63,225.45 L223.04,225.36 L231.45,225.75 L239.86,226.14 L248.26,226.52 L256.67,226.57 L265.08,226.57 L273.49,226.57 L281.89,226.57" fill="none" stroke="#2a7424" stroke-width="3.9" stroke-linejoin="round"/>
<path d="M65.40,508.28 L73.81,508.28 L82.22,507.89 L90.62,504.73 L99.03,497.96 L107.44,491.18 L115.84,490.25 L124.25,489.75 L132.66,492.00 L141.07,494.25 L149.48,496.20 L157.88,497.96 L166.29,499.48 L174.70,499.48 L183.11,499.79 L191.51,502.09 L199.92,501.33 L208.33,501.15 L216.74,503.26 L225.14,504.71 L233.55,505.93 L241.96,507.36 L250.37,508.79 L258.77,510.22 L267.18,511.65 L275.59,510.26 L284.00,508.78" fill="none" stroke="#2a7424" stroke-width="3.9" stroke-linejoin="round"/>
<path d="M65.40,676.59 L73.81,676.36 L82.22,676.14 L90.62,674.76 L99.03,670.24 L107.44,665.71 L115.84,663.82 L124.25,662.85 L132.66,663.67 L141.07,664.48 L149.48,665.86 L157.88,667.62 L166.29,669.37 L174.70,671.02 L183.11,672.51 L191.51,672.90 L199.92,673.30 L208.33,673.70 L216.74,674.04 L225.14,674.38 L233.55,674.73 L241.96,674.97 L250.37,675.22 L258.77,675.46 L267.18,675.70 L275.59,675.95 L284.00,676.18" fill="none" stroke="#2a7424" stroke-width="3.9" stroke-linejoin="round"/>
<path d="M388.20,111.34 L396.58,110.51 L404.96,109.68 L413.35,108.84 L421.73,108.00 L430.11,107.09 L438.49,106.18 L446.87,105.27 L455.26,105.02 L463.64,105.23 L472.02,105.43 L480.40,105.63 L488.78,105.83 L497.17,105.32 L505.55,94.86 L513.93,75.90 L522.31,66.30 L530.69,64.05 L539.08,64.12 L547.46,65.88 L555.84,67.64 L564.22,71.29 L572.60,74.95 L580.99,77.34 L589.37,79.65 L597.75,109.36 L606.13,115.80 L614.51,115.06 L622.90,114.32 L631.28,113.59 L639.66,112.85 L648.04,112.00 L656.42,111.03 L664.81,110.06 L673.19,109.09 L681.57,108.12" fill="none" stroke="#2a7424" stroke-width="3.9" stroke-linejoin="round"/>
<path d="M388.20,212.16 L396.58,211.53 L404.96,210.91 L413.35,210.53 L421.73,210.22 L430.11,209.86 L438.49,208.94 L446.87,208.03 L455.26,207.11 L463.64,206.44 L472.02,206.44 L480.40,206.44 L488.78,207.26 L497.17,213.41 L505.55,223.92 L513.93,235.52 L522.31,238.79 L530.69,240.68 L539.08,240.43 L547.46,238.89 L555.84,237.36 L564.22,235.83 L572.60,234.34 L580.99,233.31 L589.37,232.29 L597.75,218.89 L606.13,209.41 L614.51,206.62 L622.90,204.87 L631.28,203.80 L639.66,202.73 L648.04,201.66 L656.42,200.56 L664.81,199.45 L673.19,198.35 L681.57,197.24" fill="none" stroke="#2a7424" stroke-width="3.9" stroke-linejoin="round"/>
<path d="M388.00,509.27 L396.38,510.02 L404.76,510.76 L413.15,511.50 L421.53,511.64 L429.91,511.78 L438.29,511.92 L446.67,512.06 L455.06,511.73 L463.44,511.00 L471.82,510.27 L480.20,509.53 L488.58,508.17 L496.97,502.69 L505.35,491.84 L513.73,479.66 L522.11,475.71 L530.49,476.16 L538.88,477.78 L547.26,480.38 L555.64,482.98 L564.02,485.31 L572.40,485.83 L580.79,486.35 L589.17,487.37 L597.55,488.39 L605.93,492.86 L614.31,497.44 L622.70,500.25 L631.08,503.06 L639.46,505.81 L647.84,508.48 L656.22,511.15 L664.61,511.69 L672.99,511.91 L681.37,512.12" fill="none" stroke="#2a7424" stroke-width="3.9" stroke-linejoin="round"/>
<path d="M388.00,674.52 L396.38,674.76 L404.76,674.99 L413.15,675.22 L421.53,675.45 L429.91,675.66 L438.29,675.88 L446.67,676.09 L455.06,676.12 L463.44,676.03 L471.82,675.94 L480.20,675.84 L488.58,675.12 L496.97,669.54 L505.35,653.63 L513.73,637.73 L522.11,632.69 L530.49,631.44 L538.88,632.21 L547.26,635.00 L555.64,637.79 L564.02,640.31 L572.40,641.03 L580.79,641.76 L589.17,642.48 L597.55,645.39 L605.93,650.55 L614.31,655.76 L622.70,659.58 L631.08,663.39 L639.46,666.62 L647.84,669.16 L656.22,671.70 L664.61,673.04 L672.99,674.20 L681.37,675.35" fill="none" stroke="#2a7424" stroke-width="3.9" stroke-linejoin="round"/>
<path d="M64.10,356.80 L80.62,356.80 L89.30,313.40 L282.50,313.40" fill="none" stroke="#fc875b" stroke-width="3.2" stroke-linejoin="miter"/>
<path d="M388.20,356.80 L488.23,356.80 L496.61,313.40 L588.81,313.40 L597.19,356.80 L682.13,356.80" fill="none" stroke="#fc875b" stroke-width="3.2" stroke-linejoin="miter"/>
<path d="M66.30,766.80 L82.82,766.80 L91.50,723.50 L284.70,723.50" fill="none" stroke="#fc875b" stroke-width="3.2" stroke-linejoin="miter"/>
<path d="M388.10,766.80 L488.13,766.80 L496.51,723.50 L588.71,723.50 L597.09,766.80 L682.03,766.80" fill="none" stroke="#fc875b" stroke-width="3.2" stroke-linejoin="miter"/>
<path d="M63.30,20.10 L63.30,143.90 L301.80,143.90" fill="none" stroke="#262626" stroke-width="1.6" stroke-linecap="square"/>
<path d="M63.30,143.90 h4.2 M63.30,119.14 h4.2 M63.30,94.38 h4.2 M63.30,69.62 h4.2 M63.30,44.86 h4.2 M63.30,20.10 h4.2 M119.35,143.90 v-4.2 M175.40,143.90 v-4.2 M231.45,143.90 v-4.2 M287.50,143.90 v-4.2 " fill="none" stroke="#262626" stroke-width="1.6"/>
<text x="47.30" y="149.40" text-anchor="middle" font-size="13.7" fill="#262626" stroke="#262626" stroke-width="0.22">0</text>
<text x="47.30" y="124.64" text-anchor="middle" font-size="13.7" fill="#262626" stroke="#262626" stroke-width="0.22">20</text>
<text x="47.30" y="99.88" text-anchor="middle" font-size="13.7" fill="#262626" stroke="#262626" stroke-width="0.22">40</text>
<text x="47.30" y="75.12" text-anchor="middle" font-size="13.7" fill="#262626" stroke="#262626" stroke-width="0.22">60</text>
<text x="47.30" y="50.36" text-anchor="middle" font-size="13.7" fill="#262626" stroke="#262626" stroke-width="0.22">80</text>
<text x="47.30" y="25.60" text-anchor="middle" font-size="13.7" fill="#262626" stroke="#262626" stroke-width="0.22">100</text>
<text transform="translate(29.00,81.60) rotate(-90)" text-anchor="middle" font-size="14.2" fill="#262626" stroke="#262626" stroke-width="0.22">Nuclear TFEB (%)</text>
<path d="M63.30,164.30 L63.30,288.60 L301.80,288.60" fill="none" stroke="#262626" stroke-width="1.6" stroke-linecap="square"/>
<path d="M63.30,288.60 h4.2 M63.30,263.74 h4.2 M63.30,238.88 h4.2 M63.30,214.02 h4.2 M63.30,189.16 h4.2 M63.30,164.30 h4.2 M119.35,288.60 v-4.2 M175.40,288.60 v-4.2 M231.45,288.60 v-4.2 M287.50,288.60 v-4.2 " fill="none" stroke="#262626" stroke-width="1.6"/>
<text x="47.30" y="294.10" text-anchor="middle" font-size="13.7" fill="#262626" stroke="#262626" stroke-width="0.22">0</text>
<text x="47.30" y="269.24" text-anchor="middle" font-size="13.7" fill="#262626" stroke="#262626" stroke-width="0.22">20</text>
<text x="47.30" y="244.38" text-anchor="middle" font-size="13.7" fill="#262626" stroke="#262626" stroke-width="0.22">40</text>
<text x="47.30" y="219.52" text-anchor="middle" font-size="13.7" fill="#262626" stroke="#262626" stroke-width="0.22">60</text>
<text x="47.30" y="194.66" text-anchor="middle" font-size="13.7" fill="#262626" stroke="#262626" stroke-width="0.22">80</text>
<text x="47.30" y="169.80" text-anchor="middle" font-size="13.7" fill="#262626" stroke="#262626" stroke-width="0.22">100</text>
<text transform="translate(29.90,227.20) rotate(-90)" text-anchor="middle" font-size="14.2" fill="#262626" stroke="#262626" stroke-width="0.22">Cytoplasmic TFEB (%)</text>
<path d="M388.20,20.10 L388.20,143.90 L682.00,143.90" fill="none" stroke="#262626" stroke-width="1.6" stroke-linecap="square"/>
<path d="M388.20,143.90 h4.2 M388.20,119.14 h4.2 M388.20,94.38 h4.2 M388.20,69.62 h4.2 M388.20,44.86 h4.2 M388.20,20.10 h4.2 M444.08,143.90 v-4.2 M499.96,143.90 v-4.2 M555.84,143.90 v-4.2 M611.72,143.90 v-4.2 M667.60,143.90 v-4.2 " fill="none" stroke="#262626" stroke-width="1.6"/>
<text x="372.20" y="149.40" text-anchor="middle" font-size="13.7" fill="#262626" stroke="#262626" stroke-width="0.22">0</text>
<text x="372.20" y="124.64" text-anchor="middle" font-size="13.7" fill="#262626" stroke="#262626" stroke-width="0.22">20</text>
<text x="372.20" y="99.88" text-anchor="middle" font-size="13.7" fill="#262626" stroke="#262626" stroke-width="0.22">40</text>
<text x="372.20" y="75.12" text-anchor="middle" font-size="13.7" fill="#262626" stroke="#262626" stroke-width="0.22">60</text>
<text x="372.20" y="50.36" text-anchor="middle" font-size="13.7" fill="#262626" stroke="#262626" stroke-width="0.22">80</text>
<text x="372.20" y="25.60" text-anchor="middle" font-size="13.7" fill="#262626" stroke="#262626" stroke-width="0.22">100</text>
<text transform="translate(354.00,82.00) rotate(-90)" text-anchor="middle" font-size="14.2" fill="#262626" stroke="#262626" stroke-width="0.22">Nuclear TFEB (%)</text>
<path d="M388.20,164.30 L388.20,288.60 L682.00,288.60" fill="none" stroke="#262626" stroke-width="1.6" stroke-linecap="square"/>
<path d="M388.20,288.60 h4.2 M388.20,263.74 h4.2 M388.20,238.88 h4.2 M388.20,214.02 h4.2 M388.20,189.16 h4.2 M388.20,164.30 h4.2 M444.08,288.60 v-4.2 M499.96,288.60 v-4.2 M555.84,288.60 v-4.2 M611.72,288.60 v-4.2 M667.60,288.60 v-4.2 " fill="none" stroke="#262626" stroke-width="1.6"/>
<text x="372.20" y="294.10" text-anchor="middle" font-size="13.7" fill="#262626" stroke="#262626" stroke-width="0.22">0</text>
<text x="372.20" y="269.24" text-anchor="middle" font-size="13.7" fill="#262626" stroke="#262626" stroke-width="0.22">20</text>
<text x="372.20" y="244.38" text-anchor="middle" font-size="13.7" fill="#262626" stroke="#262626" stroke-width="0.22">40</text>
<text x="372.20" y="219.52" text-anchor="middle" font-size="13.7" fill="#262626" stroke="#262626" stroke-width="0.22">60</text>
<text x="372.20" y="194.66" text-anchor="middle" font-size="13.7" fill="#262626" stroke="#262626" stroke-width="0.22">80</text>
<text x="372.20" y="169.80" text-anchor="middle" font-size="13.7" fill="#262626" stroke="#262626" stroke-width="0.22">100</text>
<text transform="translate(354.30,227.20) rotate(-90)" text-anchor="middle" font-size="14.2" fill="#262626" stroke="#262626" stroke-width="0.22">Cytoplasmic TFEB (%)</text>
<path d="M65.40,430.10 L65.40,554.00 L300.90,554.00" fill="none" stroke="#262626" stroke-width="1.6" stroke-linecap="square"/>
<path d="M65.40,554.00 h4.2 M65.40,529.22 h4.2 M65.40,504.44 h4.2 M65.40,479.66 h4.2 M65.40,454.88 h4.2 M65.40,430.10 h4.2 M121.45,554.00 v-4.2 M177.50,554.00 v-4.2 M233.55,554.00 v-4.2 M289.60,554.00 v-4.2 " fill="none" stroke="#262626" stroke-width="1.6"/>
<text x="49.40" y="559.50" text-anchor="middle" font-size="13.7" fill="#262626" stroke="#262626" stroke-width="0.22">0</text>
<text x="49.40" y="534.72" text-anchor="middle" font-size="13.7" fill="#262626" stroke="#262626" stroke-width="0.22">20</text>
<text x="49.40" y="509.94" text-anchor="middle" font-size="13.7" fill="#262626" stroke="#262626" stroke-width="0.22">40</text>
<text x="49.40" y="485.16" text-anchor="middle" font-size="13.7" fill="#262626" stroke="#262626" stroke-width="0.22">60</text>
<text x="49.40" y="460.38" text-anchor="middle" font-size="13.7" fill="#262626" stroke="#262626" stroke-width="0.22">80</text>
<text x="49.40" y="435.60" text-anchor="middle" font-size="13.7" fill="#262626" stroke="#262626" stroke-width="0.22">100</text>
<text transform="translate(31.00,492.00) rotate(-90)" text-anchor="middle" font-size="14.2" fill="#262626" stroke="#262626" stroke-width="0.22">Nuclear TFEB (%)</text>
<path d="M388.00,430.10 L388.00,554.00 L682.00,554.00" fill="none" stroke="#262626" stroke-width="1.6" stroke-linecap="square"/>
<path d="M388.00,554.00 h4.2 M388.00,529.22 h4.2 M388.00,504.44 h4.2 M388.00,479.66 h4.2 M388.00,454.88 h4.2 M388.00,430.10 h4.2 M443.88,554.00 v-4.2 M499.76,554.00 v-4.2 M555.64,554.00 v-4.2 M611.52,554.00 v-4.2 M667.40,554.00 v-4.2 " fill="none" stroke="#262626" stroke-width="1.6"/>
<text x="372.00" y="559.50" text-anchor="middle" font-size="13.7" fill="#262626" stroke="#262626" stroke-width="0.22">0</text>
<text x="372.00" y="534.72" text-anchor="middle" font-size="13.7" fill="#262626" stroke="#262626" stroke-width="0.22">20</text>
<text x="372.00" y="509.94" text-anchor="middle" font-size="13.7" fill="#262626" stroke="#262626" stroke-width="0.22">40</text>
<text x="372.00" y="485.16" text-anchor="middle" font-size="13.7" fill="#262626" stroke="#262626" stroke-width="0.22">60</text>
<text x="372.00" y="460.38" text-anchor="middle" font-size="13.7" fill="#262626" stroke="#262626" stroke-width="0.22">80</text>
<text x="372.00" y="435.60" text-anchor="middle" font-size="13.7" fill="#262626" stroke="#262626" stroke-width="0.22">100</text>
<text transform="translate(353.60,492.00) rotate(-90)" text-anchor="middle" font-size="14.2" fill="#262626" stroke="#262626" stroke-width="0.22">Nuclear TFEB (%)</text>
<path d="M65.40,574.48 L65.40,698.50 L300.90,698.50" fill="none" stroke="#262626" stroke-width="1.6" stroke-linecap="square"/>
<path d="M65.40,698.50 h4.2 M65.40,677.83 h4.2 M65.40,657.16 h4.2 M65.40,636.49 h4.2 M65.40,615.82 h4.2 M65.40,595.15 h4.2 M65.40,574.48 h4.2 M121.45,698.50 v-4.2 M177.50,698.50 v-4.2 M233.55,698.50 v-4.2 M289.60,698.50 v-4.2 " fill="none" stroke="#262626" stroke-width="1.6"/>
<text x="56.60" y="704.00" text-anchor="middle" font-size="13.7" fill="#262626" stroke="#262626" stroke-width="0.22">0</text>
<text x="56.60" y="683.33" text-anchor="middle" font-size="13.7" fill="#262626" stroke="#262626" stroke-width="0.22">1</text>
<text x="56.60" y="662.66" text-anchor="middle" font-size="13.7" fill="#262626" stroke="#262626" stroke-width="0.22">2</text>
<text x="56.60" y="641.99" text-anchor="middle" font-size="13.7" fill="#262626" stroke="#262626" stroke-width="0.22">3</text>
<text x="56.60" y="621.32" text-anchor="middle" font-size="13.7" fill="#262626" stroke="#262626" stroke-width="0.22">4</text>
<text x="56.60" y="600.65" text-anchor="middle" font-size="13.7" fill="#262626" stroke="#262626" stroke-width="0.22">5</text>
<text x="56.60" y="579.98" text-anchor="middle" font-size="13.7" fill="#262626" stroke="#262626" stroke-width="0.22">6</text>
<text transform="translate(34.70,637.00) rotate(-90)" text-anchor="middle" font-size="14.2" fill="#262626" stroke="#262626" stroke-width="0.22">Nuc/Cyto TFEB</text>
<path d="M388.00,574.48 L388.00,698.50 L682.00,698.50" fill="none" stroke="#262626" stroke-width="1.6" stroke-linecap="square"/>
<path d="M388.00,698.50 h4.2 M388.00,677.83 h4.2 M388.00,657.16 h4.2 M388.00,636.49 h4.2 M388.00,615.82 h4.2 M388.00,595.15 h4.2 M388.00,574.48 h4.2 M443.88,698.50 v-4.2 M499.76,698.50 v-4.2 M555.64,698.50 v-4.2 M611.52,698.50 v-4.2 M667.40,698.50 v-4.2 " fill="none" stroke="#262626" stroke-width="1.6"/>
<text x="378.60" y="704.00" text-anchor="middle" font-size="13.7" fill="#262626" stroke="#262626" stroke-width="0.22">0</text>
<text x="378.60" y="683.33" text-anchor="middle" font-size="13.7" fill="#262626" stroke="#262626" stroke-width="0.22">1</text>
<text x="378.60" y="662.66" text-anchor="middle" font-size="13.7" fill="#262626" stroke="#262626" stroke-width="0.22">2</text>
<text x="378.60" y="641.99" text-anchor="middle" font-size="13.7" fill="#262626" stroke="#262626" stroke-width="0.22">3</text>
<text x="378.60" y="621.32" text-anchor="middle" font-size="13.7" fill="#262626" stroke="#262626" stroke-width="0.22">4</text>
<text x="378.60" y="600.65" text-anchor="middle" font-size="13.7" fill="#262626" stroke="#262626" stroke-width="0.22">5</text>
<text x="378.60" y="579.98" text-anchor="middle" font-size="13.7" fill="#262626" stroke="#262626" stroke-width="0.22">6</text>
<text transform="translate(354.00,633.70) rotate(-90)" text-anchor="middle" font-size="14.2" fill="#262626" stroke="#262626" stroke-width="0.22">Nuc/Cyto TFEB</text>
<path d="M64.10,308.30 L64.10,360.80 L301.80,360.80" fill="none" stroke="#262626" stroke-width="1.6" stroke-linecap="square"/>
<path d="M64.10,313.40 h4.2 M120.10,360.80 v-4.2 M176.10,360.80 v-4.2 M232.10,360.80 v-4.2 M288.10,360.80 v-4.2 " fill="none" stroke="#262626" stroke-width="1.6"/>
<text x="58.60" y="318.70" text-anchor="end" font-size="13.7" fill="#262626" stroke="#262626" stroke-width="0.22">HBSS</text>
<text x="58.60" y="362.10" text-anchor="end" font-size="13.7" fill="#262626" stroke="#262626" stroke-width="0.22">RPMI</text>
<text x="60.10" y="381.10" text-anchor="middle" font-size="13.7" fill="#262626" stroke="#262626" stroke-width="0.22">0</text>
<text x="120.10" y="381.10" text-anchor="middle" font-size="13.7" fill="#262626" stroke="#262626" stroke-width="0.22">100</text>
<text x="176.10" y="381.10" text-anchor="middle" font-size="13.7" fill="#262626" stroke="#262626" stroke-width="0.22">200</text>
<text x="232.10" y="381.10" text-anchor="middle" font-size="13.7" fill="#262626" stroke="#262626" stroke-width="0.22">300</text>
<text x="288.10" y="381.10" text-anchor="middle" font-size="13.7" fill="#262626" stroke="#262626" stroke-width="0.22">400</text>
<text x="191.40" y="400.80" text-anchor="middle" font-size="15.2" fill="#262626" stroke="#262626" stroke-width="0.22">Time (min)</text>
<text transform="translate(13.80,335.60) rotate(-90)" text-anchor="middle" font-size="15" fill="#262626" stroke="#262626" stroke-width="0.22">Input</text>
<path d="M388.20,308.30 L388.20,360.60 L682.00,360.60" fill="none" stroke="#262626" stroke-width="1.6" stroke-linecap="square"/>
<path d="M388.20,313.40 h4.2 M444.08,360.60 v-4.2 M499.96,360.60 v-4.2 M555.84,360.60 v-4.2 M611.72,360.60 v-4.2 M667.60,360.60 v-4.2 " fill="none" stroke="#262626" stroke-width="1.6"/>
<text x="381.90" y="318.70" text-anchor="end" font-size="13.7" fill="#262626" stroke="#262626" stroke-width="0.22">HBSS</text>
<text x="381.90" y="362.10" text-anchor="end" font-size="13.7" fill="#262626" stroke="#262626" stroke-width="0.22">RPMI</text>
<text x="384.20" y="380.90" text-anchor="middle" font-size="13.7" fill="#262626" stroke="#262626" stroke-width="0.22">0</text>
<text x="444.08" y="380.90" text-anchor="middle" font-size="13.7" fill="#262626" stroke="#262626" stroke-width="0.22">100</text>
<text x="499.96" y="380.90" text-anchor="middle" font-size="13.7" fill="#262626" stroke="#262626" stroke-width="0.22">200</text>
<text x="555.84" y="380.90" text-anchor="middle" font-size="13.7" fill="#262626" stroke="#262626" stroke-width="0.22">300</text>
<text x="611.72" y="380.90" text-anchor="middle" font-size="13.7" fill="#262626" stroke="#262626" stroke-width="0.22">400</text>
<text x="667.60" y="380.90" text-anchor="middle" font-size="13.7" fill="#262626" stroke="#262626" stroke-width="0.22">500</text>
<text x="535.20" y="400.60" text-anchor="middle" font-size="15.2" fill="#262626" stroke="#262626" stroke-width="0.22">Time (min)</text>
<text transform="translate(337.80,335.60) rotate(-90)" text-anchor="middle" font-size="15" fill="#262626" stroke="#262626" stroke-width="0.22">Input</text>
<path d="M66.30,718.50 L66.30,771.10 L300.90,771.10" fill="none" stroke="#262626" stroke-width="1.6" stroke-linecap="square"/>
<path d="M66.30,723.50 h4.2 M122.30,771.10 v-4.2 M178.30,771.10 v-4.2 M234.30,771.10 v-4.2 M290.30,771.10 v-4.2 " fill="none" stroke="#262626" stroke-width="1.6"/>
<text x="59.20" y="728.80" text-anchor="end" font-size="13.7" fill="#262626" stroke="#262626" stroke-width="0.22">+TOR1</text>
<text x="59.20" y="772.10" text-anchor="end" font-size="13.7" fill="#262626" stroke="#262626" stroke-width="0.22">-TOR1</text>
<text x="62.30" y="791.40" text-anchor="middle" font-size="13.7" fill="#262626" stroke="#262626" stroke-width="0.22">0</text>
<text x="122.30" y="791.40" text-anchor="middle" font-size="13.7" fill="#262626" stroke="#262626" stroke-width="0.22">100</text>
<text x="178.30" y="791.40" text-anchor="middle" font-size="13.7" fill="#262626" stroke="#262626" stroke-width="0.22">200</text>
<text x="234.30" y="791.40" text-anchor="middle" font-size="13.7" fill="#262626" stroke="#262626" stroke-width="0.22">300</text>
<text x="290.30" y="791.40" text-anchor="middle" font-size="13.7" fill="#262626" stroke="#262626" stroke-width="0.22">400</text>
<text x="196.50" y="811.10" text-anchor="middle" font-size="15.2" fill="#262626" stroke="#262626" stroke-width="0.22">Time (min)</text>
<text transform="translate(10.70,745.60) rotate(-90)" text-anchor="middle" font-size="15" fill="#262626" stroke="#262626" stroke-width="0.22">Input</text>
<path d="M388.10,718.40 L388.10,771.00 L682.00,771.00" fill="none" stroke="#262626" stroke-width="1.6" stroke-linecap="square"/>
<path d="M388.10,723.50 h4.2 M443.98,771.00 v-4.2 M499.86,771.00 v-4.2 M555.74,771.00 v-4.2 M611.62,771.00 v-4.2 M667.50,771.00 v-4.2 " fill="none" stroke="#262626" stroke-width="1.6"/>
<text x="380.90" y="728.80" text-anchor="end" font-size="13.7" fill="#262626" stroke="#262626" stroke-width="0.22">+TOR1</text>
<text x="380.90" y="772.10" text-anchor="end" font-size="13.7" fill="#262626" stroke="#262626" stroke-width="0.22">-TOR1</text>
<text x="384.10" y="791.30" text-anchor="middle" font-size="13.7" fill="#262626" stroke="#262626" stroke-width="0.22">0</text>
<text x="443.98" y="791.30" text-anchor="middle" font-size="13.7" fill="#262626" stroke="#262626" stroke-width="0.22">100</text>
<text x="499.86" y="791.30" text-anchor="middle" font-size="13.7" fill="#262626" stroke="#262626" stroke-width="0.22">200</text>
<text x="555.74" y="791.30" text-anchor="middle" font-size="13.7" fill="#262626" stroke="#262626" stroke-width="0.22">300</text>
<text x="611.62" y="791.30" text-anchor="middle" font-size="13.7" fill="#262626" stroke="#262626" stroke-width="0.22">400</text>
<text x="667.50" y="791.30" text-anchor="middle" font-size="13.7" fill="#262626" stroke="#262626" stroke-width="0.22">500</text>
<text x="536.60" y="811.00" text-anchor="middle" font-size="15.2" fill="#262626" stroke="#262626" stroke-width="0.22">Time (min)</text>
<text transform="translate(337.80,745.60) rotate(-90)" text-anchor="middle" font-size="15" fill="#262626" stroke="#262626" stroke-width="0.22">Input</text>
<text x="18.3" y="9.9" font-size="14.5" fill="#000" stroke="#000" stroke-width="0.22">A</text>
<text x="331.2" y="9.9" font-size="14.5" fill="#000" stroke="#000" stroke-width="0.22">B</text>
<text x="17.3" y="412.8" font-size="14.5" fill="#000" stroke="#000" stroke-width="0.22">C</text>
<text x="331.2" y="412.6" font-size="14.5" fill="#000" stroke="#000" stroke-width="0.22">D</text>
<line x1="63.3" y1="106.5" x2="282.5" y2="106.5" stroke="#ff0000" stroke-width="1.1" stroke-dasharray="1.9,1.9"/>
<line x1="89.6" y1="102" x2="89.6" y2="143" stroke="#ff0000" stroke-width="1.1" stroke-dasharray="1.9,1.9"/>
<line x1="106.6" y1="66" x2="106.6" y2="143" stroke="#ff0000" stroke-width="1.1" stroke-dasharray="1.9,1.9"/>
<line x1="92.7" y1="128.6" x2="103.6" y2="128.6" stroke="#ff0000" stroke-width="1.2"/>
<path d="M90.3,128.6 L94.3,127.0 L94.3,130.2 Z M106,128.6 L102.0,127.0 L102.0,130.2 Z" fill="#ff0000"/>
<line x1="121.3" y1="61.2" x2="121.3" y2="103.1" stroke="#ff0000" stroke-width="1.2"/>
<path d="M121.3,58.5 L119.7,63.0 L122.89999999999999,63.0 Z M121.3,105.8 L119.7,101.3 L122.89999999999999,101.3 Z" fill="#ff0000"/>
<line x1="280.6" y1="84.7" x2="280.6" y2="100.8" stroke="#ff0000" stroke-width="1.2"/>
<path d="M280.6,82.0 L279.0,86.5 L282.20000000000005,86.5 Z M280.6,103.5 L279.0,99.0 L282.20000000000005,99.0 Z" fill="#ff0000"/>
<text x="122.2" y="121.4" font-size="14" fill="#ff0000">F<tspan font-size="9.1" dy="3.6" dx="0.6">1</tspan></text>
<text x="268.0" y="121.2" font-size="14" fill="#ff0000">F<tspan font-size="9.1" dy="3.6" dx="-0.6">2</tspan></text>
<text x="74.0" y="136.9" font-size="14" fill="#ff0000">F<tspan font-size="9.1" dy="3.6" dx="-0.4">4</tspan></text>
<line x1="509" y1="81.3" x2="588.6" y2="81.3" stroke="#ff0000" stroke-width="1.1" stroke-dasharray="1.9,1.9"/>
<line x1="588.9" y1="81.3" x2="588.9" y2="143" stroke="#ff0000" stroke-width="1.1" stroke-dasharray="1.9,1.9"/>
<line x1="599.8" y1="112" x2="599.8" y2="143" stroke="#ff0000" stroke-width="1.1" stroke-dasharray="1.9,1.9"/>
<line x1="530.9" y1="66.28" x2="530.9" y2="77.72" stroke="#ff0000" stroke-width="1.2"/>
<path d="M530.9,64.0 L529.3,67.8 L532.5,67.8 Z M530.9,80.0 L529.3,76.2 L532.5,76.2 Z" fill="#ff0000"/>
<line x1="591.6" y1="128.2" x2="596.9" y2="128.2" stroke="#ff0000" stroke-width="1.2"/>
<path d="M589.2,128.2 L593.2,126.6 L593.2,129.79999999999998 Z M599.3,128.2 L595.3,126.6 L595.3,129.79999999999998 Z" fill="#ff0000"/>
<text x="531.4" y="95.8" font-size="14" fill="#ff0000">F<tspan font-size="9.1" dy="3.6" dx="-0.4">3</tspan></text>
<text x="570.2" y="133.2" font-size="14" fill="#ff0000">F<tspan font-size="9.1" dy="3.6" dx="0.6">5</tspan></text></svg>
</body></html>
